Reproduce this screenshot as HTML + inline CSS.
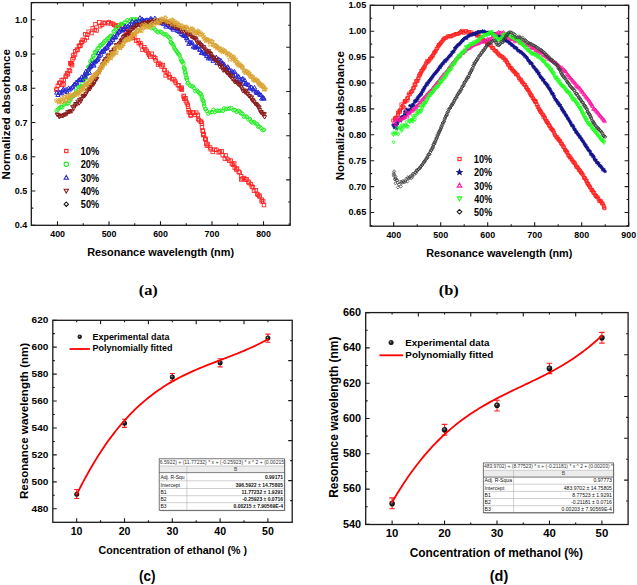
<!DOCTYPE html><html><head><meta charset="utf-8"><style>html,body{margin:0;padding:0;background:#fff;width:637px;height:585px;overflow:hidden}svg{display:block}</style></head><body><svg width="637" height="585" viewBox="0 0 637 585"><rect width="637" height="585" fill="#fff"/><defs><radialGradient id="ball" cx="0.42" cy="0.38" r="0.6"><stop offset="0" stop-color="#bbb"/><stop offset="0.3" stop-color="#333"/><stop offset="1" stop-color="#000"/></radialGradient></defs><path d="M57.5 225.3L57.5 221.3M109 225.3L109 221.3M160.5 225.3L160.5 221.3M212 225.3L212 221.3M263.5 225.3L263.5 221.3M83.25 225.3L83.25 223.3M134.75 225.3L134.75 223.3M186.25 225.3L186.25 223.3M237.75 225.3L237.75 223.3M289.25 225.3L289.25 223.3M83.25 2.6L83.25 6.6M134.75 2.6L134.75 6.6M186.25 2.6L186.25 6.6M237.75 2.6L237.75 6.6M57.5 2.6L57.5 4.6M109 2.6L109 4.6M160.5 2.6L160.5 4.6M212 2.6L212 4.6M263.5 2.6L263.5 4.6M31.3 225.3L35.3 225.3M31.3 191.04L35.3 191.04M31.3 156.78L35.3 156.78M31.3 122.52L35.3 122.52M31.3 88.26L35.3 88.26M31.3 54L35.3 54M31.3 19.74L35.3 19.74M31.3 208.17L33.3 208.17M31.3 173.91L33.3 173.91M31.3 139.65L33.3 139.65M31.3 105.39L33.3 105.39M31.3 71.13L33.3 71.13M31.3 36.87L33.3 36.87M31.3 2.61L33.3 2.61M290.2 25.2L288.2 25.2M290.2 47.3L286.2 47.3M290.2 69.4L288.2 69.4M290.2 91.5L286.2 91.5M290.2 113.6L288.2 113.6M290.2 135.7L286.2 135.7M290.2 157.8L288.2 157.8M290.2 179.9L286.2 179.9M290.2 202L288.2 202" stroke="#1a1a1a" stroke-width="1.1" fill="none"/><rect x="31.3" y="2.6" width="258.9" height="222.7" fill="none" stroke="#1a1a1a" stroke-width="1.3"/><text x="50.22" y="237.1" font-family="Liberation Sans, sans-serif" font-weight="bold" font-size="9.7" fill="#000" textLength="14.82" lengthAdjust="spacingAndGlyphs">400</text><text x="101.65" y="237.1" font-family="Liberation Sans, sans-serif" font-weight="bold" font-size="9.7" fill="#000" textLength="14.82" lengthAdjust="spacingAndGlyphs">500</text><text x="153.13" y="237.1" font-family="Liberation Sans, sans-serif" font-weight="bold" font-size="9.7" fill="#000" textLength="14.82" lengthAdjust="spacingAndGlyphs">600</text><text x="204.61" y="237.1" font-family="Liberation Sans, sans-serif" font-weight="bold" font-size="9.7" fill="#000" textLength="14.82" lengthAdjust="spacingAndGlyphs">700</text><text x="256.15" y="237.1" font-family="Liberation Sans, sans-serif" font-weight="bold" font-size="9.7" fill="#000" textLength="14.82" lengthAdjust="spacingAndGlyphs">800</text><text x="14.66" y="228.4" font-family="Liberation Sans, sans-serif" font-weight="bold" font-size="9.3" fill="#000" textLength="12.49" lengthAdjust="spacingAndGlyphs">0.4</text><text x="14.84" y="194.14" font-family="Liberation Sans, sans-serif" font-weight="bold" font-size="9.3" fill="#000" textLength="12.49" lengthAdjust="spacingAndGlyphs">0.5</text><text x="14.93" y="159.88" font-family="Liberation Sans, sans-serif" font-weight="bold" font-size="9.3" fill="#000" textLength="12.49" lengthAdjust="spacingAndGlyphs">0.6</text><text x="14.98" y="125.62" font-family="Liberation Sans, sans-serif" font-weight="bold" font-size="9.3" fill="#000" textLength="12.49" lengthAdjust="spacingAndGlyphs">0.7</text><text x="14.89" y="91.36" font-family="Liberation Sans, sans-serif" font-weight="bold" font-size="9.3" fill="#000" textLength="12.49" lengthAdjust="spacingAndGlyphs">0.8</text><text x="14.93" y="57.1" font-family="Liberation Sans, sans-serif" font-weight="bold" font-size="9.3" fill="#000" textLength="12.49" lengthAdjust="spacingAndGlyphs">0.9</text><text x="14.98" y="22.84" font-family="Liberation Sans, sans-serif" font-weight="bold" font-size="9.3" fill="#000" textLength="12.49" lengthAdjust="spacingAndGlyphs">1.0</text><text x="87.14" y="255.9" font-family="Liberation Sans, sans-serif" font-weight="bold" font-size="11.4" fill="#000" textLength="146.93" lengthAdjust="spacingAndGlyphs">Resonance wavelength (nm)</text><text transform="translate(10.3 179.4) rotate(-90)" x="0" y="0" font-family="Liberation Sans, sans-serif" font-weight="bold" font-size="11.5" fill="#000" textLength="130.37" lengthAdjust="spacingAndGlyphs">Normalized absorbance</text><text x="138.71" y="294.7" font-family="Liberation Serif, serif" font-weight="bold" font-size="15.2" fill="#000" textLength="19.11" lengthAdjust="spacingAndGlyphs">(a)</text><g><use href="#m0" x="56.4" y="89.8"/><use href="#m0" x="56.8" y="88.9"/><use href="#m0" x="57.8" y="85.8"/><use href="#m0" x="59.3" y="82.9"/><use href="#m0" x="60.2" y="82.8"/><use href="#m0" x="62.2" y="84.9"/><use href="#m0" x="61.7" y="80.0"/><use href="#m0" x="63.6" y="84.3"/><use href="#m0" x="63.7" y="79.9"/><use href="#m0" x="66.0" y="75.6"/><use href="#m0" x="65.7" y="76.8"/><use href="#m0" x="67.7" y="74.4"/><use href="#m0" x="67.3" y="73.1"/><use href="#m0" x="69.0" y="70.1"/><use href="#m0" x="70.0" y="71.1"/><use href="#m0" x="71.0" y="64.2"/><use href="#m0" x="70.2" y="63.1"/><use href="#m0" x="72.1" y="65.3"/><use href="#m0" x="71.5" y="63.3"/><use href="#m0" x="72.5" y="59.3"/><use href="#m0" x="73.1" y="55.4"/><use href="#m0" x="73.8" y="57.5"/><use href="#m0" x="75.0" y="54.5"/><use href="#m0" x="75.3" y="51.2"/><use href="#m0" x="77.0" y="49.6"/><use href="#m0" x="77.5" y="50.0"/><use href="#m0" x="78.9" y="46.3"/><use href="#m0" x="79.5" y="45.6"/><use href="#m0" x="80.5" y="45.7"/><use href="#m0" x="81.2" y="42.5"/><use href="#m0" x="82.7" y="39.8"/><use href="#m0" x="82.2" y="41.9"/><use href="#m0" x="84.6" y="40.3"/><use href="#m0" x="85.3" y="34.2"/><use href="#m0" x="86.9" y="37.6"/><use href="#m0" x="87.3" y="34.7"/><use href="#m0" x="88.7" y="31.7"/><use href="#m0" x="91.5" y="33.1"/><use href="#m0" x="92.7" y="28.2"/><use href="#m0" x="94.8" y="29.8"/><use href="#m0" x="95.5" y="24.1"/><use href="#m0" x="96.6" y="30.5"/><use href="#m0" x="99.3" y="22.3"/><use href="#m0" x="100.1" y="26.2"/><use href="#m0" x="102.1" y="24.7"/><use href="#m0" x="103.6" y="22.7"/><use href="#m0" x="104.8" y="23.1"/><use href="#m0" x="107.8" y="23.3"/><use href="#m0" x="108.7" y="22.1"/><use href="#m0" x="111.3" y="23.4"/><use href="#m0" x="113.1" y="23.9"/><use href="#m0" x="114.2" y="24.9"/><use href="#m0" x="115.7" y="26.0"/><use href="#m0" x="118.0" y="25.5"/><use href="#m0" x="119.6" y="28.0"/><use href="#m0" x="121.8" y="25.6"/><use href="#m0" x="122.9" y="30.0"/><use href="#m0" x="124.4" y="29.0"/><use href="#m0" x="126.6" y="31.4"/><use href="#m0" x="127.2" y="34.4"/><use href="#m0" x="128.6" y="32.9"/><use href="#m0" x="130.7" y="34.1"/><use href="#m0" x="131.9" y="36.0"/><use href="#m0" x="132.9" y="37.9"/><use href="#m0" x="134.3" y="37.3"/><use href="#m0" x="136.1" y="40.7"/><use href="#m0" x="138.0" y="40.4"/><use href="#m0" x="138.8" y="43.2"/><use href="#m0" x="140.4" y="43.1"/><use href="#m0" x="141.1" y="45.3"/><use href="#m0" x="142.5" y="49.9"/><use href="#m0" x="144.3" y="47.2"/><use href="#m0" x="145.3" y="49.1"/><use href="#m0" x="146.6" y="50.8"/><use href="#m0" x="148.1" y="53.1"/><use href="#m0" x="149.1" y="55.0"/><use href="#m0" x="150.3" y="56.6"/><use href="#m0" x="151.9" y="53.7"/><use href="#m0" x="153.9" y="57.0"/><use href="#m0" x="155.2" y="58.2"/><use href="#m0" x="155.8" y="60.5"/><use href="#m0" x="158.0" y="64.6"/><use href="#m0" x="158.4" y="62.9"/><use href="#m0" x="160.2" y="63.9"/><use href="#m0" x="161.6" y="66.5"/><use href="#m0" x="162.9" y="65.1"/><use href="#m0" x="164.1" y="69.8"/><use href="#m0" x="164.8" y="70.3"/><use href="#m0" x="165.7" y="75.4"/><use href="#m0" x="166.9" y="72.7"/><use href="#m0" x="168.5" y="74.5"/><use href="#m0" x="169.6" y="77.4"/><use href="#m0" x="169.9" y="77.1"/><use href="#m0" x="172.1" y="79.1"/><use href="#m0" x="173.5" y="79.1"/><use href="#m0" x="174.9" y="81.0"/><use href="#m0" x="175.8" y="82.9"/><use href="#m0" x="177.8" y="85.1"/><use href="#m0" x="178.9" y="85.4"/><use href="#m0" x="179.7" y="88.5"/><use href="#m0" x="181.0" y="88.6"/><use href="#m0" x="181.8" y="87.6"/><use href="#m0" x="181.9" y="89.9"/><use href="#m0" x="183.7" y="96.7"/><use href="#m0" x="183.8" y="95.8"/><use href="#m0" x="184.3" y="98.7"/><use href="#m0" x="185.6" y="98.3"/><use href="#m0" x="185.8" y="101.1"/><use href="#m0" x="186.8" y="102.6"/><use href="#m0" x="187.8" y="104.8"/><use href="#m0" x="188.0" y="106.7"/><use href="#m0" x="188.7" y="109.9"/><use href="#m0" x="188.8" y="112.1"/><use href="#m0" x="190.0" y="112.5"/><use href="#m0" x="190.5" y="114.6"/><use href="#m0" x="190.8" y="115.8"/><use href="#m0" x="192.7" y="112.5"/><use href="#m0" x="193.4" y="112.8"/><use href="#m0" x="195.0" y="114.9"/><use href="#m0" x="196.3" y="112.6"/><use href="#m0" x="197.9" y="114.9"/><use href="#m0" x="198.1" y="119.0"/><use href="#m0" x="199.1" y="120.2"/><use href="#m0" x="200.8" y="121.7"/><use href="#m0" x="201.2" y="121.7"/><use href="#m0" x="201.9" y="123.6"/><use href="#m0" x="202.0" y="127.2"/><use href="#m0" x="202.7" y="130.6"/><use href="#m0" x="202.9" y="131.0"/><use href="#m0" x="203.2" y="134.5"/><use href="#m0" x="203.5" y="133.9"/><use href="#m0" x="203.5" y="135.1"/><use href="#m0" x="205.1" y="138.6"/><use href="#m0" x="205.5" y="139.0"/><use href="#m0" x="205.8" y="139.7"/><use href="#m0" x="206.3" y="143.6"/><use href="#m0" x="206.9" y="145.7"/><use href="#m0" x="207.9" y="144.5"/><use href="#m0" x="210.1" y="147.5"/><use href="#m0" x="210.8" y="149.3"/><use href="#m0" x="212.7" y="151.9"/><use href="#m0" x="214.5" y="149.7"/><use href="#m0" x="216.4" y="149.8"/><use href="#m0" x="218.7" y="152.4"/><use href="#m0" x="219.9" y="151.6"/><use href="#m0" x="221.7" y="151.3"/><use href="#m0" x="222.7" y="155.2"/><use href="#m0" x="224.8" y="158.6"/><use href="#m0" x="225.6" y="155.4"/><use href="#m0" x="227.4" y="158.9"/><use href="#m0" x="229.1" y="160.8"/><use href="#m0" x="230.8" y="160.6"/><use href="#m0" x="231.9" y="163.7"/><use href="#m0" x="232.9" y="164.7"/><use href="#m0" x="234.2" y="163.4"/><use href="#m0" x="234.7" y="167.6"/><use href="#m0" x="236.3" y="169.5"/><use href="#m0" x="237.1" y="168.5"/><use href="#m0" x="238.6" y="171.6"/><use href="#m0" x="239.6" y="172.5"/><use href="#m0" x="241.1" y="176.2"/><use href="#m0" x="241.2" y="179.5"/><use href="#m0" x="242.6" y="178.5"/><use href="#m0" x="244.1" y="178.0"/><use href="#m0" x="245.4" y="179.6"/><use href="#m0" x="246.6" y="179.3"/><use href="#m0" x="248.5" y="181.7"/><use href="#m0" x="248.9" y="182.9"/><use href="#m0" x="250.9" y="184.3"/><use href="#m0" x="251.9" y="186.6"/><use href="#m0" x="252.9" y="187.1"/><use href="#m0" x="254.0" y="190.8"/><use href="#m0" x="255.9" y="190.3"/><use href="#m0" x="257.2" y="194.0"/><use href="#m0" x="258.0" y="194.8"/><use href="#m0" x="259.4" y="195.6"/><use href="#m0" x="259.6" y="196.6"/><use href="#m0" x="261.7" y="201.4"/><use href="#m0" x="261.9" y="199.7"/><use href="#m0" x="263.2" y="201.5"/><use href="#m0" x="264.0" y="205.1"/></g><g><use href="#m1" x="56.5" y="110.7"/><use href="#m1" x="58.0" y="109.4"/><use href="#m1" x="59.4" y="107.8"/><use href="#m1" x="61.0" y="107.1"/><use href="#m1" x="62.3" y="107.2"/><use href="#m1" x="63.9" y="104.4"/><use href="#m1" x="65.2" y="103.5"/><use href="#m1" x="67.1" y="103.6"/><use href="#m1" x="68.5" y="103.3"/><use href="#m1" x="69.2" y="101.0"/><use href="#m1" x="70.6" y="99.6"/><use href="#m1" x="71.5" y="97.7"/><use href="#m1" x="72.7" y="95.8"/><use href="#m1" x="73.8" y="95.9"/><use href="#m1" x="74.9" y="93.7"/><use href="#m1" x="76.0" y="90.9"/><use href="#m1" x="77.3" y="91.9"/><use href="#m1" x="78.1" y="86.8"/><use href="#m1" x="79.4" y="87.2"/><use href="#m1" x="80.4" y="86.9"/><use href="#m1" x="81.6" y="86.0"/><use href="#m1" x="82.3" y="83.7"/><use href="#m1" x="83.3" y="80.8"/><use href="#m1" x="84.3" y="79.0"/><use href="#m1" x="84.8" y="79.0"/><use href="#m1" x="85.2" y="77.7"/><use href="#m1" x="86.0" y="75.3"/><use href="#m1" x="86.4" y="74.7"/><use href="#m1" x="87.1" y="73.3"/><use href="#m1" x="87.7" y="70.9"/><use href="#m1" x="88.4" y="67.0"/><use href="#m1" x="88.8" y="67.4"/><use href="#m1" x="90.1" y="65.6"/><use href="#m1" x="90.3" y="61.4"/><use href="#m1" x="91.0" y="63.0"/><use href="#m1" x="92.0" y="60.1"/><use href="#m1" x="92.5" y="59.2"/><use href="#m1" x="93.1" y="55.9"/><use href="#m1" x="94.3" y="55.5"/><use href="#m1" x="95.0" y="52.0"/><use href="#m1" x="95.9" y="52.8"/><use href="#m1" x="96.6" y="50.9"/><use href="#m1" x="97.7" y="48.4"/><use href="#m1" x="98.7" y="48.3"/><use href="#m1" x="99.9" y="45.5"/><use href="#m1" x="101.2" y="45.3"/><use href="#m1" x="102.3" y="44.2"/><use href="#m1" x="103.5" y="42.9"/><use href="#m1" x="104.6" y="41.2"/><use href="#m1" x="106.0" y="40.5"/><use href="#m1" x="107.3" y="38.6"/><use href="#m1" x="108.7" y="38.1"/><use href="#m1" x="110.0" y="36.5"/><use href="#m1" x="111.0" y="35.7"/><use href="#m1" x="112.4" y="35.9"/><use href="#m1" x="113.7" y="31.6"/><use href="#m1" x="114.6" y="30.8"/><use href="#m1" x="115.9" y="29.5"/><use href="#m1" x="117.0" y="27.1"/><use href="#m1" x="118.4" y="27.7"/><use href="#m1" x="119.6" y="24.9"/><use href="#m1" x="121.0" y="23.9"/><use href="#m1" x="122.5" y="24.3"/><use href="#m1" x="124.4" y="22.6"/><use href="#m1" x="125.5" y="22.4"/><use href="#m1" x="127.3" y="20.2"/><use href="#m1" x="129.4" y="21.1"/><use href="#m1" x="131.0" y="19.4"/><use href="#m1" x="132.9" y="19.3"/><use href="#m1" x="134.1" y="19.6"/><use href="#m1" x="136.1" y="19.1"/><use href="#m1" x="137.6" y="20.2"/><use href="#m1" x="139.3" y="22.0"/><use href="#m1" x="141.1" y="20.5"/><use href="#m1" x="143.2" y="23.6"/><use href="#m1" x="144.4" y="22.0"/><use href="#m1" x="146.0" y="24.0"/><use href="#m1" x="147.2" y="25.6"/><use href="#m1" x="148.7" y="26.6"/><use href="#m1" x="150.2" y="25.0"/><use href="#m1" x="151.5" y="28.1"/><use href="#m1" x="153.6" y="27.9"/><use href="#m1" x="155.3" y="29.6"/><use href="#m1" x="157.0" y="31.5"/><use href="#m1" x="158.3" y="32.3"/><use href="#m1" x="160.3" y="31.6"/><use href="#m1" x="161.6" y="32.3"/><use href="#m1" x="163.5" y="34.2"/><use href="#m1" x="164.6" y="34.3"/><use href="#m1" x="166.3" y="34.5"/><use href="#m1" x="167.7" y="36.7"/><use href="#m1" x="169.1" y="37.3"/><use href="#m1" x="170.3" y="39.0"/><use href="#m1" x="170.8" y="42.1"/><use href="#m1" x="171.4" y="43.1"/><use href="#m1" x="172.5" y="44.0"/><use href="#m1" x="173.4" y="45.2"/><use href="#m1" x="174.0" y="47.2"/><use href="#m1" x="174.8" y="48.8"/><use href="#m1" x="175.9" y="50.4"/><use href="#m1" x="177.1" y="51.9"/><use href="#m1" x="177.9" y="53.4"/><use href="#m1" x="179.1" y="54.5"/><use href="#m1" x="179.6" y="55.5"/><use href="#m1" x="180.7" y="58.6"/><use href="#m1" x="181.4" y="60.3"/><use href="#m1" x="181.8" y="61.7"/><use href="#m1" x="182.5" y="61.8"/><use href="#m1" x="183.4" y="63.5"/><use href="#m1" x="184.0" y="67.5"/><use href="#m1" x="184.2" y="68.4"/><use href="#m1" x="184.7" y="69.2"/><use href="#m1" x="185.0" y="72.1"/><use href="#m1" x="185.7" y="72.7"/><use href="#m1" x="185.7" y="74.8"/><use href="#m1" x="186.2" y="77.7"/><use href="#m1" x="186.9" y="77.7"/><use href="#m1" x="187.0" y="79.7"/><use href="#m1" x="187.6" y="83.4"/><use href="#m1" x="188.4" y="82.7"/><use href="#m1" x="189.9" y="85.4"/><use href="#m1" x="191.5" y="86.3"/><use href="#m1" x="192.8" y="86.4"/><use href="#m1" x="194.1" y="88.1"/><use href="#m1" x="195.3" y="91.2"/><use href="#m1" x="197.2" y="90.6"/><use href="#m1" x="198.2" y="91.9"/><use href="#m1" x="199.7" y="93.5"/><use href="#m1" x="200.9" y="93.8"/><use href="#m1" x="201.6" y="96.0"/><use href="#m1" x="202.0" y="97.6"/><use href="#m1" x="202.6" y="100.3"/><use href="#m1" x="203.1" y="100.5"/><use href="#m1" x="203.6" y="101.5"/><use href="#m1" x="203.8" y="103.8"/><use href="#m1" x="204.3" y="106.0"/><use href="#m1" x="205.3" y="109.0"/><use href="#m1" x="205.5" y="108.9"/><use href="#m1" x="206.7" y="111.0"/><use href="#m1" x="208.3" y="113.6"/><use href="#m1" x="210.1" y="112.3"/><use href="#m1" x="212.0" y="112.1"/><use href="#m1" x="213.4" y="109.8"/><use href="#m1" x="215.1" y="111.8"/><use href="#m1" x="217.1" y="110.7"/><use href="#m1" x="218.9" y="110.9"/><use href="#m1" x="220.6" y="110.6"/><use href="#m1" x="222.8" y="110.8"/><use href="#m1" x="224.1" y="108.4"/><use href="#m1" x="225.9" y="109.1"/><use href="#m1" x="227.7" y="108.8"/><use href="#m1" x="229.3" y="108.4"/><use href="#m1" x="231.5" y="108.0"/><use href="#m1" x="233.4" y="110.2"/><use href="#m1" x="234.8" y="110.0"/><use href="#m1" x="236.6" y="111.8"/><use href="#m1" x="238.6" y="110.8"/><use href="#m1" x="240.1" y="111.8"/><use href="#m1" x="240.9" y="113.3"/><use href="#m1" x="242.4" y="113.8"/><use href="#m1" x="243.9" y="116.6"/><use href="#m1" x="245.4" y="116.1"/><use href="#m1" x="246.8" y="116.9"/><use href="#m1" x="248.4" y="119.4"/><use href="#m1" x="249.9" y="119.0"/><use href="#m1" x="251.0" y="121.4"/><use href="#m1" x="252.3" y="122.5"/><use href="#m1" x="254.2" y="122.0"/><use href="#m1" x="255.3" y="123.3"/><use href="#m1" x="257.1" y="124.1"/><use href="#m1" x="258.0" y="126.5"/><use href="#m1" x="259.4" y="126.5"/><use href="#m1" x="260.9" y="127.9"/><use href="#m1" x="262.5" y="130.2"/><use href="#m1" x="263.9" y="129.8"/></g><g><use href="#m2" x="56.7" y="92.6"/><use href="#m2" x="57.9" y="94.9"/><use href="#m2" x="59.5" y="92.5"/><use href="#m2" x="60.2" y="92.5"/><use href="#m2" x="61.6" y="93.3"/><use href="#m2" x="62.8" y="90.1"/><use href="#m2" x="63.4" y="89.0"/><use href="#m2" x="65.0" y="91.2"/><use href="#m2" x="66.1" y="89.4"/><use href="#m2" x="67.1" y="92.0"/><use href="#m2" x="68.6" y="88.0"/><use href="#m2" x="69.4" y="89.6"/><use href="#m2" x="70.7" y="88.4"/><use href="#m2" x="72.2" y="87.3"/><use href="#m2" x="72.8" y="86.5"/><use href="#m2" x="74.1" y="84.5"/><use href="#m2" x="75.0" y="84.1"/><use href="#m2" x="76.1" y="82.1"/><use href="#m2" x="77.0" y="82.7"/><use href="#m2" x="78.6" y="80.0"/><use href="#m2" x="79.2" y="80.2"/><use href="#m2" x="80.1" y="79.3"/><use href="#m2" x="80.8" y="79.8"/><use href="#m2" x="81.6" y="76.9"/><use href="#m2" x="82.8" y="79.6"/><use href="#m2" x="83.9" y="75.6"/><use href="#m2" x="84.6" y="74.5"/><use href="#m2" x="85.4" y="76.6"/><use href="#m2" x="85.8" y="71.3"/><use href="#m2" x="86.7" y="73.6"/><use href="#m2" x="87.1" y="72.6"/><use href="#m2" x="88.5" y="69.2"/><use href="#m2" x="89.4" y="72.7"/><use href="#m2" x="89.5" y="67.7"/><use href="#m2" x="90.3" y="66.9"/><use href="#m2" x="91.1" y="65.9"/><use href="#m2" x="91.8" y="63.6"/><use href="#m2" x="93.4" y="64.5"/><use href="#m2" x="93.9" y="65.5"/><use href="#m2" x="94.1" y="62.5"/><use href="#m2" x="95.5" y="61.6"/><use href="#m2" x="95.8" y="60.9"/><use href="#m2" x="96.9" y="59.9"/><use href="#m2" x="97.7" y="59.4"/><use href="#m2" x="98.2" y="57.8"/><use href="#m2" x="98.5" y="53.0"/><use href="#m2" x="99.3" y="55.8"/><use href="#m2" x="100.9" y="54.5"/><use href="#m2" x="101.6" y="51.5"/><use href="#m2" x="102.0" y="51.7"/><use href="#m2" x="103.3" y="50.5"/><use href="#m2" x="103.7" y="51.5"/><use href="#m2" x="104.3" y="49.0"/><use href="#m2" x="105.1" y="48.7"/><use href="#m2" x="106.3" y="47.8"/><use href="#m2" x="107.2" y="47.4"/><use href="#m2" x="107.8" y="45.2"/><use href="#m2" x="108.8" y="43.9"/><use href="#m2" x="109.2" y="42.8"/><use href="#m2" x="110.8" y="42.4"/><use href="#m2" x="110.9" y="41.8"/><use href="#m2" x="112.5" y="38.3"/><use href="#m2" x="112.8" y="40.0"/><use href="#m2" x="113.6" y="36.7"/><use href="#m2" x="115.0" y="37.5"/><use href="#m2" x="115.6" y="36.9"/><use href="#m2" x="116.9" y="34.5"/><use href="#m2" x="117.5" y="33.1"/><use href="#m2" x="118.9" y="31.6"/><use href="#m2" x="119.2" y="31.6"/><use href="#m2" x="120.8" y="29.1"/><use href="#m2" x="121.9" y="30.5"/><use href="#m2" x="122.9" y="29.8"/><use href="#m2" x="123.9" y="28.9"/><use href="#m2" x="124.9" y="26.8"/><use href="#m2" x="125.5" y="26.3"/><use href="#m2" x="126.8" y="28.8"/><use href="#m2" x="127.6" y="26.5"/><use href="#m2" x="129.5" y="24.6"/><use href="#m2" x="130.6" y="26.6"/><use href="#m2" x="131.5" y="24.6"/><use href="#m2" x="132.1" y="21.3"/><use href="#m2" x="134.1" y="24.9"/><use href="#m2" x="134.4" y="22.7"/><use href="#m2" x="136.0" y="21.3"/><use href="#m2" x="136.9" y="21.9"/><use href="#m2" x="138.6" y="21.6"/><use href="#m2" x="139.9" y="17.7"/><use href="#m2" x="141.3" y="23.0"/><use href="#m2" x="142.0" y="19.0"/><use href="#m2" x="143.4" y="20.1"/><use href="#m2" x="144.7" y="20.9"/><use href="#m2" x="146.0" y="20.1"/><use href="#m2" x="147.0" y="19.9"/><use href="#m2" x="148.7" y="20.3"/><use href="#m2" x="150.4" y="18.6"/><use href="#m2" x="151.5" y="18.8"/><use href="#m2" x="152.2" y="22.1"/><use href="#m2" x="153.9" y="21.9"/><use href="#m2" x="154.9" y="18.2"/><use href="#m2" x="156.2" y="19.8"/><use href="#m2" x="157.7" y="21.8"/><use href="#m2" x="159.6" y="20.0"/><use href="#m2" x="160.6" y="20.7"/><use href="#m2" x="161.6" y="21.2"/><use href="#m2" x="162.6" y="22.6"/><use href="#m2" x="163.3" y="24.1"/><use href="#m2" x="164.5" y="22.3"/><use href="#m2" x="165.9" y="26.5"/><use href="#m2" x="167.4" y="24.7"/><use href="#m2" x="168.4" y="25.1"/><use href="#m2" x="170.0" y="26.3"/><use href="#m2" x="170.3" y="27.0"/><use href="#m2" x="171.9" y="28.1"/><use href="#m2" x="173.3" y="29.6"/><use href="#m2" x="173.9" y="27.9"/><use href="#m2" x="175.4" y="27.9"/><use href="#m2" x="176.9" y="28.6"/><use href="#m2" x="177.4" y="30.6"/><use href="#m2" x="178.5" y="30.9"/><use href="#m2" x="179.8" y="32.1"/><use href="#m2" x="180.5" y="28.2"/><use href="#m2" x="181.4" y="33.9"/><use href="#m2" x="183.0" y="35.2"/><use href="#m2" x="184.1" y="35.5"/><use href="#m2" x="185.1" y="35.8"/><use href="#m2" x="185.6" y="35.7"/><use href="#m2" x="186.6" y="38.2"/><use href="#m2" x="186.8" y="37.7"/><use href="#m2" x="187.4" y="40.2"/><use href="#m2" x="188.8" y="43.8"/><use href="#m2" x="189.9" y="41.9"/><use href="#m2" x="191.2" y="43.0"/><use href="#m2" x="192.0" y="42.3"/><use href="#m2" x="193.3" y="46.6"/><use href="#m2" x="194.6" y="46.6"/><use href="#m2" x="195.2" y="47.7"/><use href="#m2" x="195.9" y="46.5"/><use href="#m2" x="197.2" y="46.9"/><use href="#m2" x="198.4" y="45.7"/><use href="#m2" x="199.6" y="49.8"/><use href="#m2" x="200.1" y="49.3"/><use href="#m2" x="201.5" y="53.0"/><use href="#m2" x="201.9" y="52.3"/><use href="#m2" x="203.6" y="51.3"/><use href="#m2" x="204.1" y="53.4"/><use href="#m2" x="205.6" y="53.6"/><use href="#m2" x="206.3" y="54.3"/><use href="#m2" x="206.6" y="56.0"/><use href="#m2" x="208.3" y="58.3"/><use href="#m2" x="209.1" y="56.8"/><use href="#m2" x="210.2" y="58.5"/><use href="#m2" x="210.8" y="55.7"/><use href="#m2" x="213.0" y="60.7"/><use href="#m2" x="214.2" y="59.0"/><use href="#m2" x="215.2" y="59.3"/><use href="#m2" x="216.3" y="57.2"/><use href="#m2" x="216.9" y="63.1"/><use href="#m2" x="218.6" y="59.0"/><use href="#m2" x="220.3" y="61.7"/><use href="#m2" x="220.9" y="60.4"/><use href="#m2" x="221.9" y="63.4"/><use href="#m2" x="222.9" y="63.2"/><use href="#m2" x="224.2" y="64.3"/><use href="#m2" x="224.7" y="67.4"/><use href="#m2" x="226.2" y="68.0"/><use href="#m2" x="226.7" y="68.3"/><use href="#m2" x="227.8" y="66.8"/><use href="#m2" x="228.5" y="68.3"/><use href="#m2" x="229.7" y="70.4"/><use href="#m2" x="231.3" y="72.7"/><use href="#m2" x="231.7" y="70.7"/><use href="#m2" x="233.2" y="72.0"/><use href="#m2" x="233.3" y="75.4"/><use href="#m2" x="234.5" y="71.6"/><use href="#m2" x="235.7" y="74.7"/><use href="#m2" x="236.3" y="80.0"/><use href="#m2" x="237.7" y="75.7"/><use href="#m2" x="238.8" y="76.8"/><use href="#m2" x="239.4" y="80.4"/><use href="#m2" x="240.8" y="81.0"/><use href="#m2" x="241.9" y="79.1"/><use href="#m2" x="242.8" y="78.5"/><use href="#m2" x="243.5" y="82.4"/><use href="#m2" x="244.6" y="79.9"/><use href="#m2" x="245.4" y="83.9"/><use href="#m2" x="246.0" y="83.2"/><use href="#m2" x="247.6" y="84.5"/><use href="#m2" x="248.9" y="84.8"/><use href="#m2" x="249.5" y="88.3"/><use href="#m2" x="250.0" y="88.2"/><use href="#m2" x="251.6" y="87.1"/><use href="#m2" x="252.9" y="88.9"/><use href="#m2" x="253.7" y="90.3"/><use href="#m2" x="254.5" y="87.5"/><use href="#m2" x="256.1" y="91.7"/><use href="#m2" x="256.7" y="92.9"/><use href="#m2" x="258.1" y="92.1"/><use href="#m2" x="259.0" y="93.5"/><use href="#m2" x="260.0" y="94.8"/><use href="#m2" x="261.1" y="94.9"/><use href="#m2" x="261.6" y="98.5"/><use href="#m2" x="262.9" y="97.5"/><use href="#m2" x="263.5" y="97.8"/><use href="#m2" x="264.0" y="98.6"/></g><g><use href="#m3" x="57.1" y="114.6"/><use href="#m3" x="58.2" y="114.9"/><use href="#m3" x="59.3" y="117.0"/><use href="#m3" x="60.2" y="116.1"/><use href="#m3" x="62.0" y="116.0"/><use href="#m3" x="63.3" y="115.7"/><use href="#m3" x="64.1" y="115.0"/><use href="#m3" x="65.1" y="114.6"/><use href="#m3" x="66.7" y="114.2"/><use href="#m3" x="67.7" y="112.2"/><use href="#m3" x="68.8" y="112.0"/><use href="#m3" x="69.5" y="111.6"/><use href="#m3" x="70.5" y="111.3"/><use href="#m3" x="71.8" y="111.3"/><use href="#m3" x="72.6" y="106.9"/><use href="#m3" x="73.8" y="108.4"/><use href="#m3" x="74.9" y="105.6"/><use href="#m3" x="75.7" y="104.0"/><use href="#m3" x="76.8" y="104.4"/><use href="#m3" x="77.8" y="101.6"/><use href="#m3" x="79.0" y="103.3"/><use href="#m3" x="79.5" y="99.9"/><use href="#m3" x="80.8" y="101.3"/><use href="#m3" x="81.6" y="98.9"/><use href="#m3" x="82.8" y="96.5"/><use href="#m3" x="83.4" y="96.0"/><use href="#m3" x="84.4" y="96.0"/><use href="#m3" x="84.7" y="95.6"/><use href="#m3" x="85.9" y="94.2"/><use href="#m3" x="86.9" y="91.5"/><use href="#m3" x="87.5" y="90.6"/><use href="#m3" x="88.3" y="90.2"/><use href="#m3" x="88.8" y="87.5"/><use href="#m3" x="90.1" y="89.0"/><use href="#m3" x="90.5" y="87.0"/><use href="#m3" x="91.6" y="85.0"/><use href="#m3" x="92.5" y="84.4"/><use href="#m3" x="93.5" y="84.5"/><use href="#m3" x="94.2" y="82.4"/><use href="#m3" x="94.7" y="81.6"/><use href="#m3" x="95.5" y="79.5"/><use href="#m3" x="96.0" y="79.4"/><use href="#m3" x="96.9" y="78.8"/><use href="#m3" x="97.4" y="74.8"/><use href="#m3" x="97.9" y="73.4"/><use href="#m3" x="98.9" y="72.0"/><use href="#m3" x="99.6" y="71.6"/><use href="#m3" x="99.9" y="71.2"/><use href="#m3" x="100.4" y="69.3"/><use href="#m3" x="100.5" y="69.3"/><use href="#m3" x="101.5" y="67.4"/><use href="#m3" x="102.2" y="65.4"/><use href="#m3" x="102.6" y="64.5"/><use href="#m3" x="103.5" y="64.0"/><use href="#m3" x="104.2" y="61.7"/><use href="#m3" x="104.9" y="61.0"/><use href="#m3" x="105.6" y="59.2"/><use href="#m3" x="106.2" y="60.4"/><use href="#m3" x="107.6" y="57.8"/><use href="#m3" x="108.0" y="55.8"/><use href="#m3" x="109.0" y="54.9"/><use href="#m3" x="110.3" y="55.5"/><use href="#m3" x="111.1" y="52.2"/><use href="#m3" x="111.8" y="52.5"/><use href="#m3" x="112.9" y="51.6"/><use href="#m3" x="113.9" y="49.6"/><use href="#m3" x="114.3" y="49.5"/><use href="#m3" x="115.6" y="48.5"/><use href="#m3" x="116.2" y="45.1"/><use href="#m3" x="117.5" y="45.1"/><use href="#m3" x="118.0" y="45.2"/><use href="#m3" x="119.3" y="43.5"/><use href="#m3" x="120.2" y="42.7"/><use href="#m3" x="121.0" y="40.7"/><use href="#m3" x="121.9" y="40.8"/><use href="#m3" x="122.3" y="39.5"/><use href="#m3" x="123.2" y="37.2"/><use href="#m3" x="124.2" y="36.5"/><use href="#m3" x="124.9" y="35.8"/><use href="#m3" x="126.2" y="35.0"/><use href="#m3" x="127.3" y="35.9"/><use href="#m3" x="128.0" y="32.1"/><use href="#m3" x="129.2" y="32.6"/><use href="#m3" x="129.8" y="31.5"/><use href="#m3" x="131.4" y="29.9"/><use href="#m3" x="132.5" y="28.4"/><use href="#m3" x="133.4" y="28.3"/><use href="#m3" x="134.4" y="27.5"/><use href="#m3" x="136.2" y="26.4"/><use href="#m3" x="137.0" y="25.3"/><use href="#m3" x="138.2" y="24.7"/><use href="#m3" x="139.8" y="25.3"/><use href="#m3" x="140.8" y="25.5"/><use href="#m3" x="142.1" y="24.3"/><use href="#m3" x="143.8" y="23.8"/><use href="#m3" x="144.9" y="22.6"/><use href="#m3" x="146.5" y="22.8"/><use href="#m3" x="147.7" y="23.2"/><use href="#m3" x="149.2" y="22.2"/><use href="#m3" x="150.4" y="22.6"/><use href="#m3" x="151.4" y="22.7"/><use href="#m3" x="153.1" y="21.3"/><use href="#m3" x="154.2" y="20.9"/><use href="#m3" x="155.5" y="20.7"/><use href="#m3" x="157.0" y="20.7"/><use href="#m3" x="158.8" y="21.1"/><use href="#m3" x="159.9" y="23.1"/><use href="#m3" x="161.1" y="22.3"/><use href="#m3" x="162.4" y="21.6"/><use href="#m3" x="164.4" y="21.3"/><use href="#m3" x="165.5" y="21.5"/><use href="#m3" x="166.6" y="22.6"/><use href="#m3" x="168.2" y="23.5"/><use href="#m3" x="169.5" y="23.6"/><use href="#m3" x="170.5" y="23.3"/><use href="#m3" x="171.5" y="24.9"/><use href="#m3" x="173.2" y="26.9"/><use href="#m3" x="174.1" y="26.3"/><use href="#m3" x="175.5" y="26.7"/><use href="#m3" x="176.7" y="28.0"/><use href="#m3" x="178.1" y="27.9"/><use href="#m3" x="179.3" y="28.0"/><use href="#m3" x="180.4" y="29.6"/><use href="#m3" x="181.5" y="31.5"/><use href="#m3" x="183.2" y="31.2"/><use href="#m3" x="184.4" y="29.0"/><use href="#m3" x="185.9" y="32.0"/><use href="#m3" x="187.0" y="33.2"/><use href="#m3" x="188.0" y="34.9"/><use href="#m3" x="189.0" y="33.8"/><use href="#m3" x="190.2" y="34.4"/><use href="#m3" x="191.2" y="36.5"/><use href="#m3" x="192.4" y="37.1"/><use href="#m3" x="193.4" y="37.8"/><use href="#m3" x="194.5" y="38.3"/><use href="#m3" x="195.6" y="38.5"/><use href="#m3" x="196.3" y="40.3"/><use href="#m3" x="197.3" y="42.8"/><use href="#m3" x="198.7" y="42.4"/><use href="#m3" x="199.6" y="43.8"/><use href="#m3" x="200.7" y="44.9"/><use href="#m3" x="201.3" y="45.6"/><use href="#m3" x="202.4" y="46.8"/><use href="#m3" x="203.8" y="47.1"/><use href="#m3" x="204.3" y="48.7"/><use href="#m3" x="205.7" y="50.3"/><use href="#m3" x="206.7" y="51.4"/><use href="#m3" x="207.2" y="52.2"/><use href="#m3" x="208.7" y="51.2"/><use href="#m3" x="209.5" y="53.1"/><use href="#m3" x="210.7" y="54.0"/><use href="#m3" x="211.2" y="55.6"/><use href="#m3" x="212.2" y="56.9"/><use href="#m3" x="213.3" y="57.8"/><use href="#m3" x="214.1" y="58.1"/><use href="#m3" x="214.9" y="60.2"/><use href="#m3" x="216.3" y="60.0"/><use href="#m3" x="216.8" y="59.9"/><use href="#m3" x="218.1" y="63.0"/><use href="#m3" x="218.7" y="63.9"/><use href="#m3" x="220.0" y="67.0"/><use href="#m3" x="221.3" y="65.6"/><use href="#m3" x="222.0" y="67.0"/><use href="#m3" x="223.2" y="70.4"/><use href="#m3" x="224.2" y="69.9"/><use href="#m3" x="225.0" y="69.1"/><use href="#m3" x="225.8" y="71.5"/><use href="#m3" x="226.8" y="72.8"/><use href="#m3" x="227.8" y="73.1"/><use href="#m3" x="228.8" y="74.5"/><use href="#m3" x="229.5" y="75.4"/><use href="#m3" x="230.4" y="76.4"/><use href="#m3" x="231.4" y="76.0"/><use href="#m3" x="232.2" y="79.0"/><use href="#m3" x="233.3" y="79.2"/><use href="#m3" x="234.5" y="81.9"/><use href="#m3" x="235.5" y="81.6"/><use href="#m3" x="236.6" y="82.2"/><use href="#m3" x="237.7" y="84.0"/><use href="#m3" x="238.5" y="84.7"/><use href="#m3" x="239.7" y="84.0"/><use href="#m3" x="240.0" y="85.1"/><use href="#m3" x="241.0" y="87.1"/><use href="#m3" x="242.0" y="88.6"/><use href="#m3" x="243.0" y="91.1"/><use href="#m3" x="244.4" y="90.4"/><use href="#m3" x="245.2" y="92.4"/><use href="#m3" x="245.8" y="91.4"/><use href="#m3" x="246.9" y="93.6"/><use href="#m3" x="247.9" y="93.7"/><use href="#m3" x="248.8" y="95.9"/><use href="#m3" x="249.7" y="96.1"/><use href="#m3" x="251.0" y="98.3"/><use href="#m3" x="251.7" y="97.4"/><use href="#m3" x="252.1" y="100.3"/><use href="#m3" x="252.9" y="100.3"/><use href="#m3" x="254.0" y="101.6"/><use href="#m3" x="255.1" y="103.7"/><use href="#m3" x="255.9" y="104.0"/><use href="#m3" x="256.6" y="104.9"/><use href="#m3" x="257.5" y="105.8"/><use href="#m3" x="258.2" y="107.3"/><use href="#m3" x="259.2" y="107.5"/><use href="#m3" x="259.7" y="110.0"/><use href="#m3" x="260.8" y="112.5"/><use href="#m3" x="261.2" y="112.0"/><use href="#m3" x="262.4" y="113.5"/><use href="#m3" x="263.0" y="114.6"/><use href="#m3" x="264.3" y="114.1"/><use href="#m3" x="264.6" y="117.1"/></g><g><use href="#m4" x="56.5" y="100.6"/><use href="#m4" x="58.3" y="101.2"/><use href="#m4" x="58.9" y="102.3"/><use href="#m4" x="60.1" y="101.0"/><use href="#m4" x="60.9" y="99.5"/><use href="#m4" x="61.8" y="102.0"/><use href="#m4" x="63.6" y="98.8"/><use href="#m4" x="64.1" y="97.1"/><use href="#m4" x="65.4" y="101.1"/><use href="#m4" x="66.0" y="100.1"/><use href="#m4" x="67.0" y="96.6"/><use href="#m4" x="67.8" y="95.7"/><use href="#m4" x="68.8" y="97.5"/><use href="#m4" x="70.5" y="94.9"/><use href="#m4" x="70.6" y="98.6"/><use href="#m4" x="72.6" y="95.5"/><use href="#m4" x="72.9" y="95.1"/><use href="#m4" x="74.5" y="94.6"/><use href="#m4" x="74.6" y="94.2"/><use href="#m4" x="76.0" y="93.2"/><use href="#m4" x="77.4" y="94.7"/><use href="#m4" x="78.0" y="92.6"/><use href="#m4" x="78.5" y="93.2"/><use href="#m4" x="80.0" y="91.8"/><use href="#m4" x="81.0" y="90.3"/><use href="#m4" x="81.3" y="89.0"/><use href="#m4" x="82.8" y="88.7"/><use href="#m4" x="83.3" y="87.2"/><use href="#m4" x="84.7" y="89.6"/><use href="#m4" x="85.0" y="85.3"/><use href="#m4" x="85.8" y="85.2"/><use href="#m4" x="86.2" y="84.9"/><use href="#m4" x="87.0" y="84.2"/><use href="#m4" x="87.1" y="84.0"/><use href="#m4" x="88.7" y="82.5"/><use href="#m4" x="89.3" y="80.5"/><use href="#m4" x="89.7" y="82.7"/><use href="#m4" x="89.9" y="79.8"/><use href="#m4" x="91.3" y="79.6"/><use href="#m4" x="92.2" y="78.4"/><use href="#m4" x="92.2" y="77.4"/><use href="#m4" x="93.6" y="75.1"/><use href="#m4" x="94.0" y="76.9"/><use href="#m4" x="95.3" y="75.0"/><use href="#m4" x="95.5" y="74.0"/><use href="#m4" x="95.9" y="74.5"/><use href="#m4" x="97.1" y="73.7"/><use href="#m4" x="98.3" y="72.3"/><use href="#m4" x="98.8" y="72.1"/><use href="#m4" x="99.4" y="71.5"/><use href="#m4" x="100.2" y="69.3"/><use href="#m4" x="100.2" y="68.9"/><use href="#m4" x="101.0" y="66.9"/><use href="#m4" x="102.3" y="65.2"/><use href="#m4" x="102.2" y="67.7"/><use href="#m4" x="103.1" y="64.8"/><use href="#m4" x="103.6" y="63.9"/><use href="#m4" x="105.0" y="63.2"/><use href="#m4" x="105.1" y="63.2"/><use href="#m4" x="106.4" y="61.0"/><use href="#m4" x="106.9" y="60.9"/><use href="#m4" x="107.2" y="60.6"/><use href="#m4" x="108.5" y="59.3"/><use href="#m4" x="108.8" y="57.1"/><use href="#m4" x="109.7" y="54.6"/><use href="#m4" x="110.7" y="57.5"/><use href="#m4" x="110.9" y="58.1"/><use href="#m4" x="111.7" y="53.4"/><use href="#m4" x="112.8" y="54.0"/><use href="#m4" x="112.8" y="55.1"/><use href="#m4" x="113.9" y="53.4"/><use href="#m4" x="115.0" y="52.5"/><use href="#m4" x="114.9" y="48.3"/><use href="#m4" x="115.7" y="47.6"/><use href="#m4" x="116.5" y="52.5"/><use href="#m4" x="117.2" y="46.3"/><use href="#m4" x="117.8" y="46.4"/><use href="#m4" x="118.7" y="46.0"/><use href="#m4" x="119.8" y="48.0"/><use href="#m4" x="120.5" y="47.7"/><use href="#m4" x="121.5" y="46.0"/><use href="#m4" x="122.2" y="45.9"/><use href="#m4" x="122.8" y="43.6"/><use href="#m4" x="123.6" y="44.0"/><use href="#m4" x="124.5" y="41.3"/><use href="#m4" x="125.1" y="40.2"/><use href="#m4" x="126.1" y="40.1"/><use href="#m4" x="127.2" y="39.3"/><use href="#m4" x="128.3" y="39.7"/><use href="#m4" x="128.7" y="39.9"/><use href="#m4" x="130.3" y="37.5"/><use href="#m4" x="130.9" y="39.1"/><use href="#m4" x="131.6" y="36.7"/><use href="#m4" x="132.9" y="34.0"/><use href="#m4" x="133.5" y="34.4"/><use href="#m4" x="134.5" y="33.7"/><use href="#m4" x="135.3" y="34.2"/><use href="#m4" x="135.4" y="33.5"/><use href="#m4" x="137.0" y="31.4"/><use href="#m4" x="137.5" y="30.8"/><use href="#m4" x="138.0" y="30.4"/><use href="#m4" x="139.7" y="30.4"/><use href="#m4" x="140.4" y="30.1"/><use href="#m4" x="141.7" y="30.7"/><use href="#m4" x="142.1" y="25.5"/><use href="#m4" x="143.4" y="27.7"/><use href="#m4" x="143.9" y="26.7"/><use href="#m4" x="144.6" y="24.6"/><use href="#m4" x="145.7" y="25.5"/><use href="#m4" x="146.6" y="26.8"/><use href="#m4" x="148.2" y="27.4"/><use href="#m4" x="149.3" y="25.8"/><use href="#m4" x="150.1" y="26.4"/><use href="#m4" x="151.3" y="24.3"/><use href="#m4" x="151.7" y="24.2"/><use href="#m4" x="152.8" y="23.3"/><use href="#m4" x="153.9" y="25.1"/><use href="#m4" x="155.7" y="20.1"/><use href="#m4" x="156.3" y="22.6"/><use href="#m4" x="157.2" y="22.9"/><use href="#m4" x="158.1" y="23.1"/><use href="#m4" x="159.0" y="20.4"/><use href="#m4" x="160.0" y="21.7"/><use href="#m4" x="161.3" y="19.1"/><use href="#m4" x="162.3" y="19.6"/><use href="#m4" x="163.6" y="20.1"/><use href="#m4" x="165.1" y="18.1"/><use href="#m4" x="165.4" y="18.1"/><use href="#m4" x="166.7" y="21.3"/><use href="#m4" x="168.4" y="21.8"/><use href="#m4" x="168.7" y="22.0"/><use href="#m4" x="170.1" y="21.0"/><use href="#m4" x="171.7" y="24.2"/><use href="#m4" x="172.1" y="20.0"/><use href="#m4" x="173.2" y="20.8"/><use href="#m4" x="173.8" y="21.9"/><use href="#m4" x="175.6" y="23.4"/><use href="#m4" x="175.9" y="25.1"/><use href="#m4" x="176.9" y="22.8"/><use href="#m4" x="178.2" y="24.6"/><use href="#m4" x="179.1" y="25.0"/><use href="#m4" x="180.1" y="26.1"/><use href="#m4" x="181.8" y="27.8"/><use href="#m4" x="182.6" y="26.0"/><use href="#m4" x="183.5" y="27.7"/><use href="#m4" x="184.3" y="28.1"/><use href="#m4" x="185.4" y="27.4"/><use href="#m4" x="186.8" y="27.1"/><use href="#m4" x="187.1" y="29.5"/><use href="#m4" x="188.1" y="29.8"/><use href="#m4" x="189.7" y="31.2"/><use href="#m4" x="190.8" y="29.0"/><use href="#m4" x="191.4" y="29.4"/><use href="#m4" x="192.7" y="29.0"/><use href="#m4" x="193.3" y="30.5"/><use href="#m4" x="194.8" y="32.6"/><use href="#m4" x="195.2" y="33.5"/><use href="#m4" x="196.4" y="32.7"/><use href="#m4" x="197.5" y="32.7"/><use href="#m4" x="197.8" y="31.1"/><use href="#m4" x="199.2" y="32.0"/><use href="#m4" x="199.8" y="34.4"/><use href="#m4" x="200.9" y="34.3"/><use href="#m4" x="202.4" y="34.3"/><use href="#m4" x="203.4" y="36.5"/><use href="#m4" x="204.3" y="38.4"/><use href="#m4" x="204.8" y="38.6"/><use href="#m4" x="205.7" y="40.5"/><use href="#m4" x="206.8" y="39.7"/><use href="#m4" x="207.3" y="40.3"/><use href="#m4" x="208.2" y="39.8"/><use href="#m4" x="209.6" y="41.3"/><use href="#m4" x="210.2" y="44.4"/><use href="#m4" x="211.5" y="41.3"/><use href="#m4" x="212.2" y="41.6"/><use href="#m4" x="213.3" y="44.5"/><use href="#m4" x="213.6" y="44.4"/><use href="#m4" x="214.8" y="46.2"/><use href="#m4" x="215.9" y="45.5"/><use href="#m4" x="216.0" y="46.0"/><use href="#m4" x="216.7" y="47.9"/><use href="#m4" x="217.8" y="47.4"/><use href="#m4" x="218.6" y="48.3"/><use href="#m4" x="219.9" y="49.9"/><use href="#m4" x="221.0" y="48.8"/><use href="#m4" x="221.4" y="51.0"/><use href="#m4" x="222.5" y="51.6"/><use href="#m4" x="223.4" y="50.2"/><use href="#m4" x="224.7" y="50.8"/><use href="#m4" x="224.7" y="51.7"/><use href="#m4" x="226.5" y="52.9"/><use href="#m4" x="226.7" y="53.2"/><use href="#m4" x="228.2" y="54.6"/><use href="#m4" x="228.8" y="54.8"/><use href="#m4" x="229.2" y="54.0"/><use href="#m4" x="229.9" y="59.3"/><use href="#m4" x="231.3" y="56.2"/><use href="#m4" x="232.6" y="57.6"/><use href="#m4" x="233.3" y="56.6"/><use href="#m4" x="233.2" y="59.1"/><use href="#m4" x="234.8" y="60.6"/><use href="#m4" x="235.5" y="59.0"/><use href="#m4" x="236.5" y="61.4"/><use href="#m4" x="236.7" y="62.6"/><use href="#m4" x="237.5" y="64.1"/><use href="#m4" x="238.4" y="65.1"/><use href="#m4" x="239.5" y="63.8"/><use href="#m4" x="240.1" y="65.7"/><use href="#m4" x="241.4" y="66.0"/><use href="#m4" x="241.8" y="66.5"/><use href="#m4" x="242.2" y="67.2"/><use href="#m4" x="243.7" y="70.4"/><use href="#m4" x="244.4" y="70.2"/><use href="#m4" x="245.1" y="71.6"/><use href="#m4" x="245.6" y="72.8"/><use href="#m4" x="247.1" y="71.7"/><use href="#m4" x="247.7" y="72.4"/><use href="#m4" x="248.9" y="73.1"/><use href="#m4" x="249.0" y="73.7"/><use href="#m4" x="249.8" y="75.7"/><use href="#m4" x="250.8" y="76.5"/><use href="#m4" x="252.1" y="76.3"/><use href="#m4" x="252.6" y="76.9"/><use href="#m4" x="252.9" y="79.3"/><use href="#m4" x="254.0" y="79.6"/><use href="#m4" x="255.1" y="80.1"/><use href="#m4" x="255.1" y="80.7"/><use href="#m4" x="256.1" y="79.4"/><use href="#m4" x="257.5" y="80.7"/><use href="#m4" x="258.4" y="83.3"/><use href="#m4" x="258.3" y="81.9"/><use href="#m4" x="259.4" y="84.6"/><use href="#m4" x="260.0" y="83.8"/><use href="#m4" x="261.0" y="86.0"/><use href="#m4" x="261.8" y="84.9"/><use href="#m4" x="262.9" y="85.9"/><use href="#m4" x="263.5" y="86.9"/><use href="#m4" x="264.1" y="89.1"/><use href="#m4" x="264.3" y="89.2"/><use href="#m4" x="265.6" y="89.0"/></g><rect x="64.65" y="149.35" width="3.3" height="3.3" fill="none" stroke="#ff2020" stroke-width="1.05"/><text x="80.49" y="154.9" font-family="Liberation Sans, sans-serif" font-weight="bold" font-size="10.7" fill="#000" textLength="18.71" lengthAdjust="spacingAndGlyphs">10%</text><circle cx="66.3" cy="164.3" r="2.2" fill="none" stroke="#22ee22" stroke-width="1.05"/><text x="80.73" y="168.2" font-family="Liberation Sans, sans-serif" font-weight="bold" font-size="10.7" fill="#000" textLength="18.47" lengthAdjust="spacingAndGlyphs">20%</text><path d="M66.3 175.4L68.5 179.25L64.1 179.25Z" fill="none" stroke="#2828d0" stroke-width="1.05"/><text x="80.82" y="181.5" font-family="Liberation Sans, sans-serif" font-weight="bold" font-size="10.7" fill="#000" textLength="18.37" lengthAdjust="spacingAndGlyphs">30%</text><path d="M66.3 193.1L68.5 189.25L64.1 189.25Z" fill="none" stroke="#8b1c1c" stroke-width="1.05"/><text x="80.91" y="194.8" font-family="Liberation Sans, sans-serif" font-weight="bold" font-size="10.7" fill="#000" textLength="18.28" lengthAdjust="spacingAndGlyphs">40%</text><path d="M66.3 202L68.5 204.2L66.3 206.4L64.1 204.2Z" fill="none" stroke="#111" stroke-width="1.05"/><text x="80.77" y="208.1" font-family="Liberation Sans, sans-serif" font-weight="bold" font-size="10.7" fill="#000" textLength="18.42" lengthAdjust="spacingAndGlyphs">50%</text><path d="M393.7 226.2L393.7 222.2M393.7 5.3L393.7 9.3M440.7 226.2L440.7 222.2M440.7 5.3L440.7 9.3M487.7 226.2L487.7 222.2M487.7 5.3L487.7 9.3M534.7 226.2L534.7 222.2M534.7 5.3L534.7 9.3M581.7 226.2L581.7 222.2M581.7 5.3L581.7 9.3M628.7 226.2L628.7 222.2M628.7 5.3L628.7 9.3M417.2 226.2L417.2 224.2M417.2 5.3L417.2 7.3M464.2 226.2L464.2 224.2M464.2 5.3L464.2 7.3M511.2 226.2L511.2 224.2M511.2 5.3L511.2 7.3M558.2 226.2L558.2 224.2M558.2 5.3L558.2 7.3M605.2 226.2L605.2 224.2M605.2 5.3L605.2 7.3M370.2 212.5L374.2 212.5M628.6 212.5L624.6 212.5M370.2 186.6L374.2 186.6M628.6 186.6L624.6 186.6M370.2 160.7L374.2 160.7M628.6 160.7L624.6 160.7M370.2 134.8L374.2 134.8M628.6 134.8L624.6 134.8M370.2 108.9L374.2 108.9M628.6 108.9L624.6 108.9M370.2 83L374.2 83M628.6 83L624.6 83M370.2 57.1L374.2 57.1M628.6 57.1L624.6 57.1M370.2 31.2L374.2 31.2M628.6 31.2L624.6 31.2M370.2 5.3L374.2 5.3M628.6 5.3L624.6 5.3M370.2 225.45L372.2 225.45M628.6 225.45L626.6 225.45M370.2 199.55L372.2 199.55M628.6 199.55L626.6 199.55M370.2 173.65L372.2 173.65M628.6 173.65L626.6 173.65M370.2 147.75L372.2 147.75M628.6 147.75L626.6 147.75M370.2 121.85L372.2 121.85M628.6 121.85L626.6 121.85M370.2 95.95L372.2 95.95M628.6 95.95L626.6 95.95M370.2 70.05L372.2 70.05M628.6 70.05L626.6 70.05M370.2 44.15L372.2 44.15M628.6 44.15L626.6 44.15M370.2 18.25L372.2 18.25M628.6 18.25L626.6 18.25" stroke="#1a1a1a" stroke-width="1.1" fill="none"/><rect x="370.2" y="5.3" width="258.4" height="220.9" fill="none" stroke="#1a1a1a" stroke-width="1.3"/><text x="386.42" y="237.8" font-family="Liberation Sans, sans-serif" font-weight="bold" font-size="9.7" fill="#000" textLength="14.82" lengthAdjust="spacingAndGlyphs">400</text><text x="433.35" y="237.8" font-family="Liberation Sans, sans-serif" font-weight="bold" font-size="9.7" fill="#000" textLength="14.82" lengthAdjust="spacingAndGlyphs">500</text><text x="480.33" y="237.8" font-family="Liberation Sans, sans-serif" font-weight="bold" font-size="9.7" fill="#000" textLength="14.82" lengthAdjust="spacingAndGlyphs">600</text><text x="527.31" y="237.8" font-family="Liberation Sans, sans-serif" font-weight="bold" font-size="9.7" fill="#000" textLength="14.82" lengthAdjust="spacingAndGlyphs">700</text><text x="574.35" y="237.8" font-family="Liberation Sans, sans-serif" font-weight="bold" font-size="9.7" fill="#000" textLength="14.82" lengthAdjust="spacingAndGlyphs">800</text><text x="621.33" y="237.8" font-family="Liberation Sans, sans-serif" font-weight="bold" font-size="9.7" fill="#000" textLength="14.82" lengthAdjust="spacingAndGlyphs">900</text><text x="348.52" y="215.4" font-family="Liberation Sans, sans-serif" font-weight="bold" font-size="9.6" fill="#000" textLength="17.72" lengthAdjust="spacingAndGlyphs">0.65</text><text x="348.65" y="189.5" font-family="Liberation Sans, sans-serif" font-weight="bold" font-size="9.6" fill="#000" textLength="17.72" lengthAdjust="spacingAndGlyphs">0.70</text><text x="348.52" y="163.6" font-family="Liberation Sans, sans-serif" font-weight="bold" font-size="9.6" fill="#000" textLength="17.72" lengthAdjust="spacingAndGlyphs">0.75</text><text x="348.65" y="137.7" font-family="Liberation Sans, sans-serif" font-weight="bold" font-size="9.6" fill="#000" textLength="17.72" lengthAdjust="spacingAndGlyphs">0.80</text><text x="348.52" y="111.8" font-family="Liberation Sans, sans-serif" font-weight="bold" font-size="9.6" fill="#000" textLength="17.72" lengthAdjust="spacingAndGlyphs">0.85</text><text x="348.65" y="85.9" font-family="Liberation Sans, sans-serif" font-weight="bold" font-size="9.6" fill="#000" textLength="17.72" lengthAdjust="spacingAndGlyphs">0.90</text><text x="348.52" y="60" font-family="Liberation Sans, sans-serif" font-weight="bold" font-size="9.6" fill="#000" textLength="17.72" lengthAdjust="spacingAndGlyphs">0.95</text><text x="348.65" y="34.1" font-family="Liberation Sans, sans-serif" font-weight="bold" font-size="9.6" fill="#000" textLength="17.72" lengthAdjust="spacingAndGlyphs">1.00</text><text x="348.52" y="8.2" font-family="Liberation Sans, sans-serif" font-weight="bold" font-size="9.6" fill="#000" textLength="17.72" lengthAdjust="spacingAndGlyphs">1.05</text><text x="426.15" y="256.6" font-family="Liberation Sans, sans-serif" font-weight="bold" font-size="11.6" fill="#000" textLength="146.23" lengthAdjust="spacingAndGlyphs">Resonance wavelength (nm)</text><text transform="translate(344 180.29) rotate(-90)" x="0" y="0" font-family="Liberation Sans, sans-serif" font-weight="bold" font-size="11.1" fill="#000" textLength="129.06" lengthAdjust="spacingAndGlyphs">Normalized absorbance</text><text x="438.71" y="295" font-family="Liberation Serif, serif" font-weight="bold" font-size="15.2" fill="#000" textLength="20.03" lengthAdjust="spacingAndGlyphs">(b)</text><g><use href="#m5" x="393.1" y="120.5"/><use href="#m5" x="394.6" y="119.2"/><use href="#m5" x="394.8" y="118.4"/><use href="#m5" x="395.5" y="118.0"/><use href="#m5" x="396.7" y="117.8"/><use href="#m5" x="396.3" y="117.3"/><use href="#m5" x="397.8" y="115.0"/><use href="#m5" x="398.1" y="114.6"/><use href="#m5" x="397.9" y="112.9"/><use href="#m5" x="398.6" y="111.4"/><use href="#m5" x="399.9" y="110.7"/><use href="#m5" x="399.9" y="112.0"/><use href="#m5" x="400.3" y="109.9"/><use href="#m5" x="401.3" y="108.0"/><use href="#m5" x="401.3" y="104.3"/><use href="#m5" x="402.7" y="106.0"/><use href="#m5" x="403.1" y="107.2"/><use href="#m5" x="403.9" y="107.6"/><use href="#m5" x="404.5" y="102.3"/><use href="#m5" x="404.8" y="102.0"/><use href="#m5" x="404.6" y="101.2"/><use href="#m5" x="405.4" y="100.7"/><use href="#m5" x="405.7" y="101.1"/><use href="#m5" x="407.1" y="98.3"/><use href="#m5" x="407.5" y="100.5"/><use href="#m5" x="407.7" y="98.4"/><use href="#m5" x="408.1" y="98.0"/><use href="#m5" x="408.5" y="94.8"/><use href="#m5" x="409.1" y="93.5"/><use href="#m5" x="410.2" y="94.4"/><use href="#m5" x="410.8" y="92.2"/><use href="#m5" x="411.0" y="92.1"/><use href="#m5" x="411.9" y="91.2"/><use href="#m5" x="412.5" y="90.7"/><use href="#m5" x="412.9" y="88.5"/><use href="#m5" x="413.5" y="87.9"/><use href="#m5" x="414.2" y="87.7"/><use href="#m5" x="414.4" y="84.3"/><use href="#m5" x="415.0" y="84.5"/><use href="#m5" x="415.6" y="85.1"/><use href="#m5" x="416.2" y="81.3"/><use href="#m5" x="416.3" y="80.9"/><use href="#m5" x="417.2" y="81.3"/><use href="#m5" x="417.7" y="80.5"/><use href="#m5" x="418.1" y="78.2"/><use href="#m5" x="418.7" y="78.4"/><use href="#m5" x="418.9" y="75.6"/><use href="#m5" x="419.6" y="75.5"/><use href="#m5" x="420.1" y="73.8"/><use href="#m5" x="420.4" y="74.5"/><use href="#m5" x="421.2" y="72.7"/><use href="#m5" x="421.3" y="70.9"/><use href="#m5" x="421.9" y="70.9"/><use href="#m5" x="422.6" y="69.7"/><use href="#m5" x="423.2" y="68.3"/><use href="#m5" x="423.6" y="68.6"/><use href="#m5" x="424.1" y="67.3"/><use href="#m5" x="424.7" y="66.9"/><use href="#m5" x="425.1" y="65.4"/><use href="#m5" x="425.9" y="63.5"/><use href="#m5" x="426.6" y="62.7"/><use href="#m5" x="427.2" y="60.7"/><use href="#m5" x="427.8" y="62.0"/><use href="#m5" x="428.7" y="61.0"/><use href="#m5" x="429.4" y="60.2"/><use href="#m5" x="429.9" y="58.7"/><use href="#m5" x="430.8" y="58.6"/><use href="#m5" x="431.2" y="57.4"/><use href="#m5" x="431.9" y="56.7"/><use href="#m5" x="432.7" y="56.0"/><use href="#m5" x="433.1" y="55.2"/><use href="#m5" x="433.7" y="53.4"/><use href="#m5" x="434.3" y="52.9"/><use href="#m5" x="434.6" y="52.1"/><use href="#m5" x="435.4" y="51.4"/><use href="#m5" x="435.8" y="50.7"/><use href="#m5" x="436.5" y="49.0"/><use href="#m5" x="437.3" y="48.3"/><use href="#m5" x="438.0" y="46.7"/><use href="#m5" x="438.6" y="45.0"/><use href="#m5" x="438.9" y="45.6"/><use href="#m5" x="439.6" y="44.3"/><use href="#m5" x="440.3" y="43.6"/><use href="#m5" x="440.8" y="43.1"/><use href="#m5" x="441.5" y="42.0"/><use href="#m5" x="442.5" y="41.2"/><use href="#m5" x="443.1" y="40.0"/><use href="#m5" x="443.9" y="39.2"/><use href="#m5" x="444.3" y="38.3"/><use href="#m5" x="445.2" y="38.1"/><use href="#m5" x="446.3" y="37.8"/><use href="#m5" x="447.4" y="36.6"/><use href="#m5" x="448.2" y="36.2"/><use href="#m5" x="449.3" y="36.1"/><use href="#m5" x="450.4" y="36.7"/><use href="#m5" x="451.4" y="36.0"/><use href="#m5" x="452.6" y="35.6"/><use href="#m5" x="453.4" y="34.8"/><use href="#m5" x="454.4" y="34.8"/><use href="#m5" x="455.5" y="33.8"/><use href="#m5" x="456.8" y="33.9"/><use href="#m5" x="457.6" y="34.0"/><use href="#m5" x="458.8" y="33.6"/><use href="#m5" x="459.7" y="32.8"/><use href="#m5" x="460.8" y="32.0"/><use href="#m5" x="461.8" y="30.7"/><use href="#m5" x="463.0" y="31.9"/><use href="#m5" x="463.9" y="32.9"/><use href="#m5" x="465.2" y="31.3"/><use href="#m5" x="466.1" y="31.0"/><use href="#m5" x="467.3" y="32.5"/><use href="#m5" x="468.4" y="32.2"/><use href="#m5" x="469.6" y="31.8"/><use href="#m5" x="470.5" y="33.8"/><use href="#m5" x="471.6" y="32.3"/><use href="#m5" x="472.7" y="33.7"/><use href="#m5" x="473.8" y="34.0"/><use href="#m5" x="474.9" y="33.6"/><use href="#m5" x="475.7" y="34.3"/><use href="#m5" x="477.0" y="35.6"/><use href="#m5" x="477.9" y="35.6"/><use href="#m5" x="478.8" y="35.3"/><use href="#m5" x="479.8" y="36.7"/><use href="#m5" x="480.6" y="36.8"/><use href="#m5" x="481.5" y="38.5"/><use href="#m5" x="482.2" y="38.5"/><use href="#m5" x="483.2" y="39.5"/><use href="#m5" x="483.8" y="41.3"/><use href="#m5" x="484.6" y="40.4"/><use href="#m5" x="485.5" y="41.2"/><use href="#m5" x="486.3" y="41.9"/><use href="#m5" x="486.9" y="43.4"/><use href="#m5" x="487.7" y="44.2"/><use href="#m5" x="488.9" y="43.3"/><use href="#m5" x="489.4" y="45.2"/><use href="#m5" x="490.5" y="45.4"/><use href="#m5" x="491.1" y="45.8"/><use href="#m5" x="491.9" y="47.7"/><use href="#m5" x="492.9" y="48.1"/><use href="#m5" x="493.4" y="48.3"/><use href="#m5" x="494.2" y="50.1"/><use href="#m5" x="495.1" y="50.7"/><use href="#m5" x="495.9" y="50.9"/><use href="#m5" x="496.6" y="52.0"/><use href="#m5" x="497.6" y="53.5"/><use href="#m5" x="498.3" y="53.4"/><use href="#m5" x="499.0" y="54.6"/><use href="#m5" x="499.7" y="55.7"/><use href="#m5" x="500.7" y="55.8"/><use href="#m5" x="501.7" y="56.5"/><use href="#m5" x="502.5" y="56.8"/><use href="#m5" x="503.2" y="58.2"/><use href="#m5" x="504.2" y="58.2"/><use href="#m5" x="504.7" y="59.8"/><use href="#m5" x="505.5" y="59.7"/><use href="#m5" x="506.2" y="61.0"/><use href="#m5" x="506.9" y="62.1"/><use href="#m5" x="507.4" y="62.8"/><use href="#m5" x="508.0" y="64.6"/><use href="#m5" x="508.6" y="64.7"/><use href="#m5" x="509.3" y="65.9"/><use href="#m5" x="509.9" y="67.7"/><use href="#m5" x="510.4" y="67.5"/><use href="#m5" x="511.5" y="68.1"/><use href="#m5" x="512.0" y="69.2"/><use href="#m5" x="512.6" y="70.4"/><use href="#m5" x="513.4" y="70.9"/><use href="#m5" x="514.1" y="71.5"/><use href="#m5" x="514.6" y="72.1"/><use href="#m5" x="515.4" y="72.9"/><use href="#m5" x="516.0" y="74.4"/><use href="#m5" x="516.6" y="74.2"/><use href="#m5" x="517.6" y="74.8"/><use href="#m5" x="518.2" y="76.2"/><use href="#m5" x="518.7" y="77.9"/><use href="#m5" x="519.4" y="78.5"/><use href="#m5" x="520.3" y="80.0"/><use href="#m5" x="521.1" y="79.5"/><use href="#m5" x="521.7" y="81.3"/><use href="#m5" x="522.1" y="82.3"/><use href="#m5" x="522.9" y="82.7"/><use href="#m5" x="523.7" y="84.1"/><use href="#m5" x="524.3" y="84.7"/><use href="#m5" x="525.0" y="84.9"/><use href="#m5" x="525.9" y="87.1"/><use href="#m5" x="526.3" y="87.0"/><use href="#m5" x="526.8" y="88.2"/><use href="#m5" x="527.3" y="89.3"/><use href="#m5" x="528.0" y="89.8"/><use href="#m5" x="528.6" y="90.3"/><use href="#m5" x="529.2" y="91.8"/><use href="#m5" x="529.7" y="92.8"/><use href="#m5" x="530.3" y="93.9"/><use href="#m5" x="531.0" y="95.2"/><use href="#m5" x="531.4" y="95.3"/><use href="#m5" x="531.9" y="96.1"/><use href="#m5" x="532.6" y="98.0"/><use href="#m5" x="533.2" y="98.6"/><use href="#m5" x="534.0" y="99.7"/><use href="#m5" x="534.7" y="100.8"/><use href="#m5" x="535.1" y="101.9"/><use href="#m5" x="535.4" y="100.9"/><use href="#m5" x="535.9" y="101.9"/><use href="#m5" x="536.5" y="104.0"/><use href="#m5" x="537.1" y="105.2"/><use href="#m5" x="537.6" y="107.1"/><use href="#m5" x="538.3" y="106.6"/><use href="#m5" x="538.8" y="108.8"/><use href="#m5" x="539.4" y="109.5"/><use href="#m5" x="539.8" y="110.5"/><use href="#m5" x="540.4" y="110.7"/><use href="#m5" x="540.6" y="112.1"/><use href="#m5" x="541.2" y="112.1"/><use href="#m5" x="541.8" y="113.4"/><use href="#m5" x="542.6" y="114.4"/><use href="#m5" x="543.1" y="115.0"/><use href="#m5" x="543.4" y="116.9"/><use href="#m5" x="544.3" y="116.4"/><use href="#m5" x="544.9" y="117.9"/><use href="#m5" x="545.2" y="119.2"/><use href="#m5" x="545.9" y="120.6"/><use href="#m5" x="546.7" y="120.9"/><use href="#m5" x="547.0" y="122.2"/><use href="#m5" x="547.8" y="122.8"/><use href="#m5" x="548.1" y="123.4"/><use href="#m5" x="548.9" y="124.9"/><use href="#m5" x="549.3" y="125.9"/><use href="#m5" x="550.2" y="126.2"/><use href="#m5" x="550.4" y="127.7"/><use href="#m5" x="551.3" y="128.6"/><use href="#m5" x="551.7" y="129.3"/><use href="#m5" x="552.5" y="129.7"/><use href="#m5" x="552.8" y="130.4"/><use href="#m5" x="553.5" y="131.2"/><use href="#m5" x="554.1" y="133.0"/><use href="#m5" x="554.7" y="134.5"/><use href="#m5" x="555.1" y="135.1"/><use href="#m5" x="556.1" y="136.6"/><use href="#m5" x="556.6" y="137.5"/><use href="#m5" x="557.3" y="137.2"/><use href="#m5" x="557.6" y="138.6"/><use href="#m5" x="558.4" y="139.0"/><use href="#m5" x="559.0" y="140.1"/><use href="#m5" x="559.9" y="140.8"/><use href="#m5" x="560.4" y="141.5"/><use href="#m5" x="560.9" y="143.1"/><use href="#m5" x="561.6" y="143.9"/><use href="#m5" x="562.3" y="144.4"/><use href="#m5" x="562.9" y="145.8"/><use href="#m5" x="563.5" y="147.0"/><use href="#m5" x="564.2" y="147.4"/><use href="#m5" x="564.8" y="149.6"/><use href="#m5" x="565.4" y="150.2"/><use href="#m5" x="565.8" y="150.6"/><use href="#m5" x="566.3" y="151.6"/><use href="#m5" x="566.9" y="151.9"/><use href="#m5" x="567.5" y="153.0"/><use href="#m5" x="568.2" y="155.0"/><use href="#m5" x="568.6" y="155.8"/><use href="#m5" x="569.4" y="156.1"/><use href="#m5" x="569.9" y="157.5"/><use href="#m5" x="570.6" y="157.3"/><use href="#m5" x="571.4" y="159.2"/><use href="#m5" x="571.7" y="159.7"/><use href="#m5" x="572.6" y="160.6"/><use href="#m5" x="573.1" y="161.8"/><use href="#m5" x="573.8" y="162.1"/><use href="#m5" x="574.5" y="163.3"/><use href="#m5" x="575.0" y="163.4"/><use href="#m5" x="575.8" y="165.3"/><use href="#m5" x="576.2" y="166.6"/><use href="#m5" x="577.0" y="166.9"/><use href="#m5" x="577.7" y="167.5"/><use href="#m5" x="578.4" y="168.5"/><use href="#m5" x="579.0" y="169.8"/><use href="#m5" x="579.7" y="170.7"/><use href="#m5" x="580.2" y="170.7"/><use href="#m5" x="580.9" y="172.3"/><use href="#m5" x="581.3" y="172.7"/><use href="#m5" x="582.2" y="173.4"/><use href="#m5" x="582.5" y="174.4"/><use href="#m5" x="583.4" y="175.4"/><use href="#m5" x="584.0" y="177.5"/><use href="#m5" x="584.4" y="177.8"/><use href="#m5" x="585.0" y="178.3"/><use href="#m5" x="585.7" y="179.4"/><use href="#m5" x="586.2" y="180.8"/><use href="#m5" x="586.7" y="180.8"/><use href="#m5" x="587.1" y="182.9"/><use href="#m5" x="587.9" y="183.7"/><use href="#m5" x="588.2" y="183.8"/><use href="#m5" x="588.8" y="185.2"/><use href="#m5" x="589.4" y="186.2"/><use href="#m5" x="589.9" y="187.1"/><use href="#m5" x="590.4" y="187.7"/><use href="#m5" x="591.3" y="190.0"/><use href="#m5" x="592.0" y="189.6"/><use href="#m5" x="592.6" y="190.5"/><use href="#m5" x="593.0" y="191.7"/><use href="#m5" x="593.6" y="193.0"/><use href="#m5" x="594.3" y="193.0"/><use href="#m5" x="595.0" y="194.8"/><use href="#m5" x="595.8" y="196.2"/><use href="#m5" x="596.3" y="196.0"/><use href="#m5" x="596.9" y="197.2"/><use href="#m5" x="597.8" y="197.4"/><use href="#m5" x="598.4" y="198.9"/><use href="#m5" x="599.2" y="201.0"/><use href="#m5" x="599.8" y="200.4"/><use href="#m5" x="600.7" y="201.0"/><use href="#m5" x="601.2" y="201.8"/><use href="#m5" x="601.9" y="203.4"/><use href="#m5" x="602.6" y="203.2"/><use href="#m5" x="603.2" y="204.4"/><use href="#m5" x="603.8" y="206.1"/><use href="#m5" x="604.0" y="207.5"/><use href="#m5" x="604.7" y="208.4"/></g><g><use href="#m6" x="393.0" y="125.3"/><use href="#m6" x="394.3" y="127.7"/><use href="#m6" x="394.2" y="124.9"/><use href="#m6" x="395.6" y="123.8"/><use href="#m6" x="396.6" y="128.5"/><use href="#m6" x="396.7" y="125.3"/><use href="#m6" x="397.6" y="123.7"/><use href="#m6" x="397.4" y="121.4"/><use href="#m6" x="398.1" y="121.1"/><use href="#m6" x="399.4" y="120.0"/><use href="#m6" x="399.7" y="119.5"/><use href="#m6" x="400.7" y="120.9"/><use href="#m6" x="401.2" y="117.4"/><use href="#m6" x="402.1" y="116.7"/><use href="#m6" x="402.4" y="117.2"/><use href="#m6" x="402.8" y="118.6"/><use href="#m6" x="403.3" y="116.2"/><use href="#m6" x="404.0" y="116.3"/><use href="#m6" x="404.6" y="114.2"/><use href="#m6" x="404.7" y="111.6"/><use href="#m6" x="405.4" y="114.6"/><use href="#m6" x="405.9" y="114.5"/><use href="#m6" x="406.8" y="109.3"/><use href="#m6" x="407.1" y="112.4"/><use href="#m6" x="408.2" y="110.7"/><use href="#m6" x="408.5" y="110.4"/><use href="#m6" x="409.4" y="112.4"/><use href="#m6" x="409.8" y="105.7"/><use href="#m6" x="410.7" y="109.7"/><use href="#m6" x="410.8" y="108.9"/><use href="#m6" x="411.4" y="106.4"/><use href="#m6" x="412.3" y="106.2"/><use href="#m6" x="412.2" y="104.8"/><use href="#m6" x="413.2" y="104.5"/><use href="#m6" x="413.7" y="105.5"/><use href="#m6" x="414.4" y="102.5"/><use href="#m6" x="414.8" y="101.3"/><use href="#m6" x="415.1" y="100.6"/><use href="#m6" x="416.1" y="101.4"/><use href="#m6" x="416.6" y="100.1"/><use href="#m6" x="417.0" y="98.5"/><use href="#m6" x="417.5" y="100.0"/><use href="#m6" x="418.1" y="96.8"/><use href="#m6" x="418.3" y="98.0"/><use href="#m6" x="419.3" y="96.3"/><use href="#m6" x="419.6" y="95.1"/><use href="#m6" x="420.4" y="95.0"/><use href="#m6" x="420.8" y="93.6"/><use href="#m6" x="421.3" y="94.5"/><use href="#m6" x="421.5" y="92.5"/><use href="#m6" x="422.0" y="93.0"/><use href="#m6" x="422.5" y="91.1"/><use href="#m6" x="422.9" y="89.7"/><use href="#m6" x="423.5" y="90.3"/><use href="#m6" x="424.0" y="88.9"/><use href="#m6" x="424.3" y="88.0"/><use href="#m6" x="424.7" y="87.1"/><use href="#m6" x="425.2" y="86.8"/><use href="#m6" x="426.0" y="85.7"/><use href="#m6" x="426.2" y="84.8"/><use href="#m6" x="426.8" y="83.4"/><use href="#m6" x="427.5" y="84.3"/><use href="#m6" x="428.0" y="82.6"/><use href="#m6" x="428.5" y="82.5"/><use href="#m6" x="429.0" y="81.1"/><use href="#m6" x="429.7" y="80.1"/><use href="#m6" x="429.9" y="80.7"/><use href="#m6" x="430.6" y="78.6"/><use href="#m6" x="430.8" y="79.4"/><use href="#m6" x="431.8" y="78.1"/><use href="#m6" x="432.2" y="77.1"/><use href="#m6" x="432.6" y="76.3"/><use href="#m6" x="433.3" y="75.7"/><use href="#m6" x="433.7" y="74.7"/><use href="#m6" x="434.5" y="73.7"/><use href="#m6" x="435.0" y="73.7"/><use href="#m6" x="435.6" y="72.8"/><use href="#m6" x="436.1" y="72.3"/><use href="#m6" x="436.6" y="71.5"/><use href="#m6" x="437.1" y="70.9"/><use href="#m6" x="437.7" y="70.5"/><use href="#m6" x="438.3" y="68.7"/><use href="#m6" x="438.7" y="69.2"/><use href="#m6" x="439.5" y="66.7"/><use href="#m6" x="440.1" y="67.8"/><use href="#m6" x="440.6" y="66.9"/><use href="#m6" x="440.9" y="65.5"/><use href="#m6" x="441.6" y="65.3"/><use href="#m6" x="442.2" y="64.0"/><use href="#m6" x="442.6" y="63.4"/><use href="#m6" x="443.4" y="63.4"/><use href="#m6" x="444.0" y="62.0"/><use href="#m6" x="444.5" y="61.4"/><use href="#m6" x="445.1" y="60.3"/><use href="#m6" x="445.6" y="61.3"/><use href="#m6" x="446.2" y="60.0"/><use href="#m6" x="446.8" y="59.4"/><use href="#m6" x="447.4" y="58.8"/><use href="#m6" x="448.2" y="57.9"/><use href="#m6" x="448.7" y="56.7"/><use href="#m6" x="449.6" y="56.1"/><use href="#m6" x="450.0" y="55.7"/><use href="#m6" x="450.5" y="54.8"/><use href="#m6" x="451.1" y="55.1"/><use href="#m6" x="451.5" y="53.8"/><use href="#m6" x="452.0" y="52.3"/><use href="#m6" x="452.7" y="52.2"/><use href="#m6" x="453.1" y="51.9"/><use href="#m6" x="453.9" y="51.3"/><use href="#m6" x="454.1" y="50.8"/><use href="#m6" x="454.7" y="48.2"/><use href="#m6" x="455.2" y="48.3"/><use href="#m6" x="455.8" y="48.1"/><use href="#m6" x="456.3" y="46.8"/><use href="#m6" x="456.9" y="46.2"/><use href="#m6" x="457.4" y="45.7"/><use href="#m6" x="458.0" y="44.7"/><use href="#m6" x="458.8" y="44.7"/><use href="#m6" x="459.2" y="44.3"/><use href="#m6" x="459.7" y="43.6"/><use href="#m6" x="460.4" y="42.8"/><use href="#m6" x="461.1" y="42.5"/><use href="#m6" x="461.6" y="40.9"/><use href="#m6" x="462.6" y="40.0"/><use href="#m6" x="463.1" y="40.8"/><use href="#m6" x="463.7" y="39.1"/><use href="#m6" x="464.7" y="38.2"/><use href="#m6" x="465.3" y="37.9"/><use href="#m6" x="465.8" y="38.0"/><use href="#m6" x="466.8" y="38.2"/><use href="#m6" x="467.4" y="36.7"/><use href="#m6" x="468.1" y="35.7"/><use href="#m6" x="469.0" y="36.0"/><use href="#m6" x="470.0" y="35.0"/><use href="#m6" x="470.8" y="35.2"/><use href="#m6" x="471.5" y="35.0"/><use href="#m6" x="472.4" y="33.8"/><use href="#m6" x="473.1" y="34.2"/><use href="#m6" x="473.8" y="33.7"/><use href="#m6" x="474.7" y="34.6"/><use href="#m6" x="475.8" y="32.7"/><use href="#m6" x="476.6" y="34.0"/><use href="#m6" x="477.5" y="32.0"/><use href="#m6" x="478.4" y="31.7"/><use href="#m6" x="479.0" y="32.2"/><use href="#m6" x="480.0" y="32.0"/><use href="#m6" x="480.8" y="31.7"/><use href="#m6" x="481.9" y="31.7"/><use href="#m6" x="482.6" y="31.0"/><use href="#m6" x="483.4" y="32.2"/><use href="#m6" x="484.4" y="31.3"/><use href="#m6" x="485.2" y="32.3"/><use href="#m6" x="486.4" y="32.5"/><use href="#m6" x="487.3" y="32.8"/><use href="#m6" x="488.1" y="32.2"/><use href="#m6" x="488.8" y="33.1"/><use href="#m6" x="489.7" y="32.8"/><use href="#m6" x="490.5" y="33.9"/><use href="#m6" x="491.5" y="33.3"/><use href="#m6" x="492.4" y="33.5"/><use href="#m6" x="493.1" y="33.8"/><use href="#m6" x="494.0" y="34.1"/><use href="#m6" x="494.9" y="33.7"/><use href="#m6" x="495.6" y="33.9"/><use href="#m6" x="496.5" y="34.9"/><use href="#m6" x="497.2" y="35.3"/><use href="#m6" x="498.1" y="35.8"/><use href="#m6" x="499.0" y="36.0"/><use href="#m6" x="499.7" y="36.6"/><use href="#m6" x="500.6" y="36.6"/><use href="#m6" x="501.5" y="37.6"/><use href="#m6" x="502.2" y="38.2"/><use href="#m6" x="503.1" y="39.2"/><use href="#m6" x="503.9" y="38.2"/><use href="#m6" x="504.7" y="40.0"/><use href="#m6" x="505.5" y="40.5"/><use href="#m6" x="506.0" y="40.5"/><use href="#m6" x="506.7" y="40.9"/><use href="#m6" x="507.6" y="41.5"/><use href="#m6" x="508.4" y="41.7"/><use href="#m6" x="508.9" y="42.0"/><use href="#m6" x="509.6" y="43.3"/><use href="#m6" x="510.1" y="43.6"/><use href="#m6" x="511.1" y="44.0"/><use href="#m6" x="511.7" y="45.2"/><use href="#m6" x="512.2" y="45.2"/><use href="#m6" x="513.0" y="45.6"/><use href="#m6" x="513.8" y="46.5"/><use href="#m6" x="514.3" y="47.3"/><use href="#m6" x="514.9" y="47.9"/><use href="#m6" x="515.6" y="47.6"/><use href="#m6" x="516.6" y="48.0"/><use href="#m6" x="517.2" y="49.6"/><use href="#m6" x="517.9" y="50.4"/><use href="#m6" x="518.5" y="50.9"/><use href="#m6" x="519.3" y="50.9"/><use href="#m6" x="520.0" y="51.9"/><use href="#m6" x="520.6" y="52.1"/><use href="#m6" x="521.2" y="51.9"/><use href="#m6" x="522.0" y="53.3"/><use href="#m6" x="522.8" y="53.6"/><use href="#m6" x="523.5" y="54.5"/><use href="#m6" x="524.1" y="54.7"/><use href="#m6" x="524.5" y="56.0"/><use href="#m6" x="525.4" y="55.9"/><use href="#m6" x="525.8" y="56.9"/><use href="#m6" x="526.5" y="57.2"/><use href="#m6" x="527.1" y="58.1"/><use href="#m6" x="527.4" y="58.8"/><use href="#m6" x="528.0" y="60.4"/><use href="#m6" x="528.5" y="60.2"/><use href="#m6" x="529.4" y="61.0"/><use href="#m6" x="529.7" y="62.0"/><use href="#m6" x="530.2" y="63.4"/><use href="#m6" x="530.8" y="62.7"/><use href="#m6" x="531.4" y="63.3"/><use href="#m6" x="532.1" y="63.8"/><use href="#m6" x="532.7" y="65.6"/><use href="#m6" x="533.1" y="66.5"/><use href="#m6" x="533.7" y="67.0"/><use href="#m6" x="534.2" y="67.3"/><use href="#m6" x="534.8" y="68.5"/><use href="#m6" x="535.5" y="69.5"/><use href="#m6" x="535.9" y="69.3"/><use href="#m6" x="536.6" y="70.4"/><use href="#m6" x="536.8" y="71.7"/><use href="#m6" x="537.6" y="71.2"/><use href="#m6" x="538.2" y="73.1"/><use href="#m6" x="538.4" y="73.7"/><use href="#m6" x="539.1" y="73.2"/><use href="#m6" x="539.6" y="75.0"/><use href="#m6" x="540.2" y="76.3"/><use href="#m6" x="540.5" y="76.8"/><use href="#m6" x="541.1" y="77.8"/><use href="#m6" x="541.9" y="77.7"/><use href="#m6" x="542.4" y="79.1"/><use href="#m6" x="542.7" y="80.1"/><use href="#m6" x="543.2" y="79.6"/><use href="#m6" x="543.8" y="80.1"/><use href="#m6" x="544.3" y="81.8"/><use href="#m6" x="544.7" y="82.2"/><use href="#m6" x="545.2" y="83.1"/><use href="#m6" x="545.9" y="83.6"/><use href="#m6" x="546.6" y="84.0"/><use href="#m6" x="547.0" y="85.9"/><use href="#m6" x="547.7" y="85.2"/><use href="#m6" x="547.9" y="86.4"/><use href="#m6" x="548.6" y="87.5"/><use href="#m6" x="548.9" y="88.4"/><use href="#m6" x="549.5" y="88.8"/><use href="#m6" x="550.0" y="89.2"/><use href="#m6" x="550.4" y="90.3"/><use href="#m6" x="550.8" y="91.2"/><use href="#m6" x="551.5" y="92.4"/><use href="#m6" x="551.9" y="93.8"/><use href="#m6" x="552.1" y="93.0"/><use href="#m6" x="552.6" y="93.8"/><use href="#m6" x="553.1" y="94.0"/><use href="#m6" x="553.7" y="96.2"/><use href="#m6" x="553.9" y="95.8"/><use href="#m6" x="554.4" y="97.4"/><use href="#m6" x="554.9" y="99.0"/><use href="#m6" x="555.3" y="99.1"/><use href="#m6" x="556.0" y="100.1"/><use href="#m6" x="556.5" y="100.5"/><use href="#m6" x="556.8" y="100.9"/><use href="#m6" x="557.6" y="102.9"/><use href="#m6" x="557.7" y="102.2"/><use href="#m6" x="558.5" y="102.9"/><use href="#m6" x="558.9" y="104.7"/><use href="#m6" x="559.3" y="104.9"/><use href="#m6" x="559.7" y="105.6"/><use href="#m6" x="560.4" y="105.1"/><use href="#m6" x="560.9" y="107.1"/><use href="#m6" x="561.4" y="108.0"/><use href="#m6" x="561.9" y="109.9"/><use href="#m6" x="562.2" y="108.6"/><use href="#m6" x="562.8" y="110.0"/><use href="#m6" x="563.3" y="111.3"/><use href="#m6" x="563.7" y="112.2"/><use href="#m6" x="564.4" y="111.9"/><use href="#m6" x="564.8" y="113.3"/><use href="#m6" x="565.3" y="114.6"/><use href="#m6" x="565.8" y="114.9"/><use href="#m6" x="566.3" y="115.4"/><use href="#m6" x="566.5" y="116.0"/><use href="#m6" x="567.3" y="117.4"/><use href="#m6" x="567.6" y="118.0"/><use href="#m6" x="567.9" y="118.5"/><use href="#m6" x="568.5" y="118.9"/><use href="#m6" x="569.0" y="120.5"/><use href="#m6" x="569.5" y="120.8"/><use href="#m6" x="570.0" y="121.7"/><use href="#m6" x="570.5" y="123.0"/><use href="#m6" x="570.7" y="122.7"/><use href="#m6" x="571.5" y="124.6"/><use href="#m6" x="571.7" y="125.2"/><use href="#m6" x="572.4" y="125.8"/><use href="#m6" x="572.7" y="125.4"/><use href="#m6" x="573.4" y="126.5"/><use href="#m6" x="573.7" y="127.4"/><use href="#m6" x="574.0" y="129.2"/><use href="#m6" x="574.5" y="129.1"/><use href="#m6" x="575.2" y="129.6"/><use href="#m6" x="575.6" y="131.2"/><use href="#m6" x="576.0" y="132.4"/><use href="#m6" x="576.6" y="131.7"/><use href="#m6" x="577.1" y="133.1"/><use href="#m6" x="577.8" y="134.4"/><use href="#m6" x="578.4" y="134.7"/><use href="#m6" x="578.5" y="134.7"/><use href="#m6" x="579.4" y="136.8"/><use href="#m6" x="579.8" y="136.3"/><use href="#m6" x="580.1" y="137.3"/><use href="#m6" x="580.9" y="138.1"/><use href="#m6" x="581.3" y="139.2"/><use href="#m6" x="581.7" y="139.4"/><use href="#m6" x="582.4" y="140.5"/><use href="#m6" x="582.9" y="141.4"/><use href="#m6" x="583.4" y="141.6"/><use href="#m6" x="583.9" y="142.9"/><use href="#m6" x="584.3" y="143.6"/><use href="#m6" x="584.7" y="144.2"/><use href="#m6" x="585.4" y="145.8"/><use href="#m6" x="586.0" y="145.3"/><use href="#m6" x="586.2" y="146.7"/><use href="#m6" x="586.9" y="147.6"/><use href="#m6" x="587.2" y="147.6"/><use href="#m6" x="587.6" y="148.5"/><use href="#m6" x="588.1" y="149.6"/><use href="#m6" x="588.5" y="149.9"/><use href="#m6" x="589.0" y="150.6"/><use href="#m6" x="589.8" y="151.1"/><use href="#m6" x="590.2" y="151.9"/><use href="#m6" x="590.6" y="153.9"/><use href="#m6" x="591.0" y="154.0"/><use href="#m6" x="591.7" y="154.4"/><use href="#m6" x="592.1" y="154.8"/><use href="#m6" x="592.6" y="156.4"/><use href="#m6" x="593.4" y="155.8"/><use href="#m6" x="593.9" y="157.1"/><use href="#m6" x="594.1" y="158.3"/><use href="#m6" x="594.6" y="159.7"/><use href="#m6" x="595.5" y="160.0"/><use href="#m6" x="596.0" y="160.3"/><use href="#m6" x="596.3" y="162.1"/><use href="#m6" x="597.0" y="162.2"/><use href="#m6" x="597.3" y="162.6"/><use href="#m6" x="597.9" y="164.0"/><use href="#m6" x="598.7" y="163.0"/><use href="#m6" x="599.3" y="165.3"/><use href="#m6" x="599.7" y="165.2"/><use href="#m6" x="600.2" y="166.2"/><use href="#m6" x="601.1" y="167.0"/><use href="#m6" x="601.5" y="166.7"/><use href="#m6" x="602.1" y="168.6"/><use href="#m6" x="602.7" y="169.5"/><use href="#m6" x="603.2" y="170.0"/><use href="#m6" x="603.7" y="169.2"/><use href="#m6" x="604.4" y="170.7"/><use href="#m6" x="605.2" y="171.5"/></g><g><use href="#m7" x="393.9" y="122.5"/><use href="#m7" x="395.1" y="120.3"/><use href="#m7" x="396.0" y="124.3"/><use href="#m7" x="396.7" y="119.1"/><use href="#m7" x="397.5" y="119.7"/><use href="#m7" x="398.7" y="119.7"/><use href="#m7" x="399.1" y="117.9"/><use href="#m7" x="400.0" y="120.4"/><use href="#m7" x="400.6" y="119.6"/><use href="#m7" x="401.7" y="118.4"/><use href="#m7" x="402.8" y="118.4"/><use href="#m7" x="404.2" y="116.8"/><use href="#m7" x="404.1" y="117.9"/><use href="#m7" x="404.9" y="117.1"/><use href="#m7" x="406.3" y="111.9"/><use href="#m7" x="407.3" y="116.8"/><use href="#m7" x="407.2" y="115.4"/><use href="#m7" x="408.3" y="112.8"/><use href="#m7" x="409.0" y="113.8"/><use href="#m7" x="409.8" y="112.9"/><use href="#m7" x="410.8" y="111.3"/><use href="#m7" x="411.7" y="110.0"/><use href="#m7" x="412.6" y="110.9"/><use href="#m7" x="413.2" y="109.7"/><use href="#m7" x="413.7" y="109.3"/><use href="#m7" x="414.4" y="108.5"/><use href="#m7" x="415.7" y="107.2"/><use href="#m7" x="416.1" y="108.0"/><use href="#m7" x="416.7" y="105.8"/><use href="#m7" x="417.2" y="105.6"/><use href="#m7" x="418.0" y="105.1"/><use href="#m7" x="418.4" y="105.1"/><use href="#m7" x="419.6" y="102.7"/><use href="#m7" x="420.2" y="102.4"/><use href="#m7" x="420.4" y="102.4"/><use href="#m7" x="421.3" y="100.4"/><use href="#m7" x="422.2" y="99.9"/><use href="#m7" x="422.7" y="99.7"/><use href="#m7" x="423.1" y="98.9"/><use href="#m7" x="423.8" y="97.6"/><use href="#m7" x="424.8" y="97.6"/><use href="#m7" x="425.3" y="96.7"/><use href="#m7" x="425.7" y="96.5"/><use href="#m7" x="426.5" y="94.6"/><use href="#m7" x="427.3" y="94.8"/><use href="#m7" x="427.7" y="93.5"/><use href="#m7" x="428.6" y="92.8"/><use href="#m7" x="429.0" y="92.0"/><use href="#m7" x="429.9" y="91.4"/><use href="#m7" x="430.4" y="90.7"/><use href="#m7" x="431.0" y="90.6"/><use href="#m7" x="431.7" y="89.6"/><use href="#m7" x="432.5" y="88.5"/><use href="#m7" x="433.0" y="88.1"/><use href="#m7" x="433.5" y="87.1"/><use href="#m7" x="434.2" y="86.4"/><use href="#m7" x="434.9" y="85.5"/><use href="#m7" x="435.6" y="85.2"/><use href="#m7" x="436.1" y="83.9"/><use href="#m7" x="437.0" y="82.7"/><use href="#m7" x="437.7" y="82.0"/><use href="#m7" x="438.3" y="82.3"/><use href="#m7" x="438.7" y="81.5"/><use href="#m7" x="439.3" y="80.4"/><use href="#m7" x="440.1" y="79.0"/><use href="#m7" x="440.7" y="78.1"/><use href="#m7" x="441.3" y="77.9"/><use href="#m7" x="441.9" y="76.6"/><use href="#m7" x="442.7" y="76.2"/><use href="#m7" x="443.2" y="74.8"/><use href="#m7" x="443.9" y="74.1"/><use href="#m7" x="444.4" y="73.9"/><use href="#m7" x="445.4" y="72.5"/><use href="#m7" x="446.0" y="72.1"/><use href="#m7" x="446.6" y="71.8"/><use href="#m7" x="446.9" y="71.2"/><use href="#m7" x="447.8" y="70.4"/><use href="#m7" x="448.3" y="69.2"/><use href="#m7" x="448.7" y="67.8"/><use href="#m7" x="449.4" y="68.2"/><use href="#m7" x="450.0" y="66.2"/><use href="#m7" x="450.8" y="66.5"/><use href="#m7" x="451.5" y="65.0"/><use href="#m7" x="451.9" y="64.3"/><use href="#m7" x="452.6" y="62.7"/><use href="#m7" x="453.1" y="62.7"/><use href="#m7" x="453.7" y="62.1"/><use href="#m7" x="454.5" y="61.3"/><use href="#m7" x="455.0" y="60.5"/><use href="#m7" x="455.7" y="59.4"/><use href="#m7" x="456.2" y="59.3"/><use href="#m7" x="457.1" y="58.4"/><use href="#m7" x="457.5" y="57.1"/><use href="#m7" x="458.5" y="57.0"/><use href="#m7" x="458.9" y="56.7"/><use href="#m7" x="459.8" y="56.1"/><use href="#m7" x="460.4" y="55.1"/><use href="#m7" x="461.4" y="53.5"/><use href="#m7" x="462.2" y="52.9"/><use href="#m7" x="462.8" y="53.0"/><use href="#m7" x="463.4" y="52.4"/><use href="#m7" x="464.3" y="50.9"/><use href="#m7" x="464.9" y="51.3"/><use href="#m7" x="465.7" y="50.0"/><use href="#m7" x="466.6" y="49.2"/><use href="#m7" x="467.5" y="48.4"/><use href="#m7" x="468.3" y="48.5"/><use href="#m7" x="469.0" y="47.9"/><use href="#m7" x="469.8" y="47.8"/><use href="#m7" x="470.9" y="46.9"/><use href="#m7" x="471.5" y="46.1"/><use href="#m7" x="472.4" y="45.6"/><use href="#m7" x="473.4" y="45.2"/><use href="#m7" x="474.5" y="44.6"/><use href="#m7" x="475.1" y="44.4"/><use href="#m7" x="476.3" y="43.7"/><use href="#m7" x="476.9" y="43.7"/><use href="#m7" x="478.1" y="43.7"/><use href="#m7" x="478.9" y="43.2"/><use href="#m7" x="479.8" y="42.3"/><use href="#m7" x="480.9" y="41.4"/><use href="#m7" x="481.8" y="41.9"/><use href="#m7" x="482.5" y="41.6"/><use href="#m7" x="483.4" y="41.7"/><use href="#m7" x="484.6" y="40.1"/><use href="#m7" x="485.6" y="40.5"/><use href="#m7" x="486.3" y="40.3"/><use href="#m7" x="487.3" y="39.1"/><use href="#m7" x="488.2" y="39.3"/><use href="#m7" x="489.2" y="39.2"/><use href="#m7" x="490.1" y="38.9"/><use href="#m7" x="491.0" y="39.1"/><use href="#m7" x="492.0" y="38.9"/><use href="#m7" x="492.5" y="36.4"/><use href="#m7" x="493.3" y="36.0"/><use href="#m7" x="494.1" y="35.1"/><use href="#m7" x="494.7" y="34.4"/><use href="#m7" x="495.7" y="34.0"/><use href="#m7" x="496.7" y="33.3"/><use href="#m7" x="497.6" y="33.3"/><use href="#m7" x="498.4" y="32.0"/><use href="#m7" x="499.1" y="32.3"/><use href="#m7" x="500.1" y="32.5"/><use href="#m7" x="500.9" y="32.8"/><use href="#m7" x="501.8" y="33.2"/><use href="#m7" x="502.8" y="32.6"/><use href="#m7" x="503.6" y="32.0"/><use href="#m7" x="504.8" y="33.4"/><use href="#m7" x="505.2" y="34.3"/><use href="#m7" x="505.8" y="35.1"/><use href="#m7" x="506.8" y="35.5"/><use href="#m7" x="507.5" y="36.7"/><use href="#m7" x="508.1" y="37.5"/><use href="#m7" x="508.7" y="38.2"/><use href="#m7" x="509.8" y="38.9"/><use href="#m7" x="510.7" y="38.7"/><use href="#m7" x="511.7" y="39.0"/><use href="#m7" x="512.5" y="39.5"/><use href="#m7" x="513.4" y="39.3"/><use href="#m7" x="514.5" y="41.6"/><use href="#m7" x="515.2" y="40.6"/><use href="#m7" x="516.1" y="40.5"/><use href="#m7" x="517.3" y="40.8"/><use href="#m7" x="518.2" y="41.1"/><use href="#m7" x="519.3" y="41.9"/><use href="#m7" x="520.1" y="43.0"/><use href="#m7" x="521.3" y="42.7"/><use href="#m7" x="521.9" y="42.7"/><use href="#m7" x="523.1" y="42.5"/><use href="#m7" x="524.1" y="43.4"/><use href="#m7" x="525.1" y="43.2"/><use href="#m7" x="525.6" y="43.7"/><use href="#m7" x="526.6" y="44.7"/><use href="#m7" x="527.4" y="45.5"/><use href="#m7" x="528.6" y="45.3"/><use href="#m7" x="529.2" y="44.9"/><use href="#m7" x="530.1" y="47.3"/><use href="#m7" x="531.1" y="47.6"/><use href="#m7" x="532.0" y="47.6"/><use href="#m7" x="532.7" y="48.0"/><use href="#m7" x="533.5" y="47.8"/><use href="#m7" x="534.3" y="48.6"/><use href="#m7" x="535.4" y="50.0"/><use href="#m7" x="536.1" y="50.3"/><use href="#m7" x="537.1" y="50.3"/><use href="#m7" x="537.7" y="51.2"/><use href="#m7" x="538.9" y="51.3"/><use href="#m7" x="539.4" y="52.8"/><use href="#m7" x="540.6" y="53.0"/><use href="#m7" x="541.5" y="52.1"/><use href="#m7" x="542.2" y="52.6"/><use href="#m7" x="543.0" y="54.3"/><use href="#m7" x="543.9" y="55.4"/><use href="#m7" x="544.7" y="55.5"/><use href="#m7" x="545.5" y="55.6"/><use href="#m7" x="546.0" y="56.4"/><use href="#m7" x="546.7" y="57.5"/><use href="#m7" x="547.7" y="57.2"/><use href="#m7" x="548.5" y="58.7"/><use href="#m7" x="549.4" y="59.4"/><use href="#m7" x="550.0" y="59.5"/><use href="#m7" x="551.2" y="60.0"/><use href="#m7" x="551.8" y="60.6"/><use href="#m7" x="552.7" y="61.1"/><use href="#m7" x="553.4" y="61.0"/><use href="#m7" x="554.5" y="62.6"/><use href="#m7" x="555.4" y="62.4"/><use href="#m7" x="556.2" y="62.8"/><use href="#m7" x="556.8" y="63.9"/><use href="#m7" x="557.8" y="64.7"/><use href="#m7" x="558.4" y="65.2"/><use href="#m7" x="559.1" y="65.9"/><use href="#m7" x="560.1" y="66.9"/><use href="#m7" x="560.7" y="67.5"/><use href="#m7" x="561.5" y="68.1"/><use href="#m7" x="562.2" y="67.4"/><use href="#m7" x="563.1" y="69.8"/><use href="#m7" x="563.7" y="69.6"/><use href="#m7" x="564.5" y="70.2"/><use href="#m7" x="565.1" y="71.2"/><use href="#m7" x="565.4" y="71.3"/><use href="#m7" x="566.1" y="71.7"/><use href="#m7" x="567.0" y="73.8"/><use href="#m7" x="567.5" y="74.7"/><use href="#m7" x="568.1" y="74.8"/><use href="#m7" x="568.8" y="75.6"/><use href="#m7" x="569.2" y="77.2"/><use href="#m7" x="570.1" y="77.5"/><use href="#m7" x="570.5" y="78.0"/><use href="#m7" x="571.1" y="78.5"/><use href="#m7" x="572.0" y="79.8"/><use href="#m7" x="572.6" y="80.2"/><use href="#m7" x="573.1" y="81.1"/><use href="#m7" x="573.7" y="82.2"/><use href="#m7" x="574.7" y="82.3"/><use href="#m7" x="575.0" y="83.3"/><use href="#m7" x="575.9" y="85.6"/><use href="#m7" x="576.3" y="84.3"/><use href="#m7" x="576.9" y="86.6"/><use href="#m7" x="577.7" y="87.0"/><use href="#m7" x="578.1" y="86.2"/><use href="#m7" x="579.1" y="88.1"/><use href="#m7" x="579.8" y="87.8"/><use href="#m7" x="580.3" y="89.3"/><use href="#m7" x="581.1" y="91.0"/><use href="#m7" x="581.7" y="90.5"/><use href="#m7" x="582.3" y="92.1"/><use href="#m7" x="582.8" y="92.0"/><use href="#m7" x="583.6" y="93.9"/><use href="#m7" x="584.3" y="94.5"/><use href="#m7" x="584.7" y="94.7"/><use href="#m7" x="585.5" y="96.0"/><use href="#m7" x="586.0" y="96.9"/><use href="#m7" x="586.6" y="97.7"/><use href="#m7" x="587.4" y="98.2"/><use href="#m7" x="587.9" y="99.1"/><use href="#m7" x="588.7" y="99.9"/><use href="#m7" x="589.2" y="100.6"/><use href="#m7" x="589.8" y="101.5"/><use href="#m7" x="590.2" y="102.6"/><use href="#m7" x="590.6" y="103.4"/><use href="#m7" x="591.3" y="104.1"/><use href="#m7" x="591.9" y="104.7"/><use href="#m7" x="592.1" y="106.1"/><use href="#m7" x="592.6" y="106.0"/><use href="#m7" x="593.2" y="109.0"/><use href="#m7" x="594.0" y="108.6"/><use href="#m7" x="594.2" y="108.7"/><use href="#m7" x="595.2" y="109.9"/><use href="#m7" x="595.8" y="109.9"/><use href="#m7" x="596.4" y="111.3"/><use href="#m7" x="597.0" y="112.1"/><use href="#m7" x="597.7" y="112.7"/><use href="#m7" x="598.3" y="113.0"/><use href="#m7" x="599.1" y="114.2"/><use href="#m7" x="599.6" y="115.4"/><use href="#m7" x="600.3" y="115.9"/><use href="#m7" x="600.9" y="116.3"/><use href="#m7" x="601.7" y="117.5"/><use href="#m7" x="602.4" y="118.9"/><use href="#m7" x="602.8" y="118.3"/><use href="#m7" x="603.7" y="120.3"/><use href="#m7" x="604.2" y="120.1"/><use href="#m7" x="604.8" y="121.4"/></g><g><use href="#m8" x="393.5" y="134.8"/><use href="#m8" x="393.1" y="134.1"/><use href="#m8" x="394.6" y="132.5"/><use href="#m8" x="395.4" y="133.8"/><use href="#m8" x="396.7" y="133.5"/><use href="#m8" x="397.0" y="129.3"/><use href="#m8" x="398.2" y="134.5"/><use href="#m8" x="399.5" y="128.1"/><use href="#m8" x="400.5" y="128.7"/><use href="#m8" x="400.3" y="127.3"/><use href="#m8" x="401.5" y="131.0"/><use href="#m8" x="402.2" y="125.3"/><use href="#m8" x="402.0" y="129.5"/><use href="#m8" x="402.5" y="126.3"/><use href="#m8" x="404.6" y="126.8"/><use href="#m8" x="405.3" y="125.6"/><use href="#m8" x="405.3" y="125.4"/><use href="#m8" x="405.6" y="125.4"/><use href="#m8" x="406.6" y="122.2"/><use href="#m8" x="406.8" y="126.8"/><use href="#m8" x="408.0" y="126.9"/><use href="#m8" x="409.8" y="122.0"/><use href="#m8" x="409.1" y="121.1"/><use href="#m8" x="409.9" y="120.8"/><use href="#m8" x="411.8" y="119.9"/><use href="#m8" x="411.7" y="119.6"/><use href="#m8" x="412.2" y="121.0"/><use href="#m8" x="413.1" y="121.6"/><use href="#m8" x="413.1" y="116.4"/><use href="#m8" x="413.7" y="117.8"/><use href="#m8" x="414.8" y="119.9"/><use href="#m8" x="414.9" y="115.5"/><use href="#m8" x="415.9" y="115.8"/><use href="#m8" x="416.9" y="113.1"/><use href="#m8" x="417.6" y="113.9"/><use href="#m8" x="418.0" y="111.7"/><use href="#m8" x="418.2" y="111.0"/><use href="#m8" x="418.8" y="113.2"/><use href="#m8" x="420.5" y="112.2"/><use href="#m8" x="420.4" y="110.7"/><use href="#m8" x="420.4" y="106.8"/><use href="#m8" x="421.4" y="110.9"/><use href="#m8" x="422.2" y="107.7"/><use href="#m8" x="422.5" y="105.5"/><use href="#m8" x="422.7" y="107.6"/><use href="#m8" x="423.5" y="105.5"/><use href="#m8" x="423.2" y="104.8"/><use href="#m8" x="424.2" y="104.6"/><use href="#m8" x="424.1" y="103.7"/><use href="#m8" x="424.6" y="102.9"/><use href="#m8" x="424.8" y="103.1"/><use href="#m8" x="426.0" y="102.2"/><use href="#m8" x="426.0" y="102.6"/><use href="#m8" x="426.7" y="100.0"/><use href="#m8" x="427.0" y="100.2"/><use href="#m8" x="427.9" y="98.6"/><use href="#m8" x="427.9" y="98.3"/><use href="#m8" x="428.7" y="97.2"/><use href="#m8" x="429.1" y="95.8"/><use href="#m8" x="430.0" y="94.6"/><use href="#m8" x="430.2" y="94.9"/><use href="#m8" x="430.9" y="95.1"/><use href="#m8" x="431.3" y="93.0"/><use href="#m8" x="432.1" y="93.0"/><use href="#m8" x="432.7" y="92.2"/><use href="#m8" x="433.4" y="92.3"/><use href="#m8" x="433.6" y="89.4"/><use href="#m8" x="434.3" y="90.5"/><use href="#m8" x="435.0" y="89.6"/><use href="#m8" x="435.5" y="88.4"/><use href="#m8" x="436.2" y="87.6"/><use href="#m8" x="436.5" y="87.1"/><use href="#m8" x="437.5" y="87.2"/><use href="#m8" x="438.0" y="86.1"/><use href="#m8" x="438.4" y="86.5"/><use href="#m8" x="439.2" y="84.1"/><use href="#m8" x="439.7" y="83.5"/><use href="#m8" x="440.0" y="81.3"/><use href="#m8" x="440.7" y="82.7"/><use href="#m8" x="441.0" y="81.5"/><use href="#m8" x="441.7" y="82.0"/><use href="#m8" x="442.3" y="80.7"/><use href="#m8" x="442.9" y="78.7"/><use href="#m8" x="443.3" y="79.2"/><use href="#m8" x="443.9" y="78.9"/><use href="#m8" x="444.4" y="76.4"/><use href="#m8" x="445.2" y="76.5"/><use href="#m8" x="445.8" y="77.6"/><use href="#m8" x="445.9" y="74.1"/><use href="#m8" x="446.7" y="73.8"/><use href="#m8" x="447.1" y="73.5"/><use href="#m8" x="447.5" y="74.2"/><use href="#m8" x="448.0" y="72.1"/><use href="#m8" x="448.4" y="70.9"/><use href="#m8" x="449.3" y="70.6"/><use href="#m8" x="449.6" y="69.9"/><use href="#m8" x="450.0" y="70.5"/><use href="#m8" x="450.5" y="68.2"/><use href="#m8" x="451.4" y="69.3"/><use href="#m8" x="451.7" y="66.3"/><use href="#m8" x="452.4" y="65.8"/><use href="#m8" x="452.6" y="65.1"/><use href="#m8" x="453.4" y="65.3"/><use href="#m8" x="453.6" y="64.4"/><use href="#m8" x="454.2" y="63.4"/><use href="#m8" x="454.8" y="62.3"/><use href="#m8" x="455.4" y="63.0"/><use href="#m8" x="455.7" y="61.1"/><use href="#m8" x="456.3" y="59.7"/><use href="#m8" x="456.7" y="59.7"/><use href="#m8" x="457.6" y="59.3"/><use href="#m8" x="457.7" y="58.0"/><use href="#m8" x="458.5" y="56.0"/><use href="#m8" x="459.1" y="57.4"/><use href="#m8" x="459.4" y="56.2"/><use href="#m8" x="460.1" y="55.9"/><use href="#m8" x="460.7" y="54.9"/><use href="#m8" x="461.0" y="54.4"/><use href="#m8" x="461.8" y="53.7"/><use href="#m8" x="462.3" y="53.0"/><use href="#m8" x="463.0" y="52.1"/><use href="#m8" x="463.6" y="52.0"/><use href="#m8" x="464.4" y="50.8"/><use href="#m8" x="464.9" y="51.7"/><use href="#m8" x="465.4" y="49.6"/><use href="#m8" x="466.0" y="47.1"/><use href="#m8" x="466.7" y="47.8"/><use href="#m8" x="467.6" y="46.9"/><use href="#m8" x="468.2" y="46.7"/><use href="#m8" x="469.1" y="46.1"/><use href="#m8" x="469.5" y="45.8"/><use href="#m8" x="470.4" y="44.3"/><use href="#m8" x="471.4" y="44.1"/><use href="#m8" x="472.1" y="44.2"/><use href="#m8" x="472.9" y="43.7"/><use href="#m8" x="473.2" y="44.0"/><use href="#m8" x="474.0" y="42.3"/><use href="#m8" x="474.9" y="43.3"/><use href="#m8" x="475.5" y="42.2"/><use href="#m8" x="476.6" y="42.0"/><use href="#m8" x="477.0" y="41.1"/><use href="#m8" x="477.8" y="41.1"/><use href="#m8" x="478.7" y="40.6"/><use href="#m8" x="479.2" y="39.3"/><use href="#m8" x="479.7" y="39.8"/><use href="#m8" x="480.4" y="38.2"/><use href="#m8" x="481.2" y="38.6"/><use href="#m8" x="482.1" y="37.0"/><use href="#m8" x="483.0" y="36.4"/><use href="#m8" x="483.4" y="36.8"/><use href="#m8" x="484.3" y="34.8"/><use href="#m8" x="485.1" y="35.1"/><use href="#m8" x="485.9" y="35.2"/><use href="#m8" x="486.9" y="34.6"/><use href="#m8" x="487.5" y="34.7"/><use href="#m8" x="488.3" y="33.8"/><use href="#m8" x="489.0" y="33.7"/><use href="#m8" x="490.2" y="32.5"/><use href="#m8" x="490.7" y="32.8"/><use href="#m8" x="491.6" y="31.8"/><use href="#m8" x="492.4" y="34.0"/><use href="#m8" x="492.8" y="34.8"/><use href="#m8" x="493.8" y="35.3"/><use href="#m8" x="494.4" y="36.7"/><use href="#m8" x="494.8" y="35.6"/><use href="#m8" x="495.8" y="37.9"/><use href="#m8" x="496.4" y="37.1"/><use href="#m8" x="496.9" y="39.4"/><use href="#m8" x="497.3" y="40.2"/><use href="#m8" x="498.0" y="40.4"/><use href="#m8" x="498.8" y="40.2"/><use href="#m8" x="499.8" y="39.1"/><use href="#m8" x="500.3" y="39.4"/><use href="#m8" x="501.2" y="39.0"/><use href="#m8" x="501.9" y="37.6"/><use href="#m8" x="502.7" y="38.4"/><use href="#m8" x="503.0" y="34.9"/><use href="#m8" x="503.7" y="35.9"/><use href="#m8" x="504.8" y="34.8"/><use href="#m8" x="505.4" y="34.7"/><use href="#m8" x="506.1" y="34.4"/><use href="#m8" x="507.0" y="33.6"/><use href="#m8" x="507.9" y="34.6"/><use href="#m8" x="508.3" y="34.0"/><use href="#m8" x="509.0" y="33.7"/><use href="#m8" x="510.2" y="36.7"/><use href="#m8" x="510.5" y="36.5"/><use href="#m8" x="511.7" y="36.7"/><use href="#m8" x="512.5" y="37.3"/><use href="#m8" x="513.2" y="38.6"/><use href="#m8" x="514.0" y="37.8"/><use href="#m8" x="514.6" y="39.0"/><use href="#m8" x="515.5" y="39.4"/><use href="#m8" x="516.1" y="39.3"/><use href="#m8" x="516.9" y="40.9"/><use href="#m8" x="517.8" y="40.5"/><use href="#m8" x="518.3" y="40.8"/><use href="#m8" x="518.9" y="41.6"/><use href="#m8" x="519.8" y="42.2"/><use href="#m8" x="520.3" y="43.6"/><use href="#m8" x="521.3" y="43.6"/><use href="#m8" x="521.9" y="44.1"/><use href="#m8" x="522.6" y="45.3"/><use href="#m8" x="523.1" y="44.7"/><use href="#m8" x="523.9" y="46.0"/><use href="#m8" x="524.4" y="47.0"/><use href="#m8" x="525.2" y="47.4"/><use href="#m8" x="526.0" y="47.5"/><use href="#m8" x="526.5" y="48.0"/><use href="#m8" x="527.0" y="49.8"/><use href="#m8" x="527.6" y="50.3"/><use href="#m8" x="528.6" y="50.4"/><use href="#m8" x="529.0" y="51.1"/><use href="#m8" x="529.9" y="51.9"/><use href="#m8" x="530.5" y="52.6"/><use href="#m8" x="531.2" y="53.0"/><use href="#m8" x="531.9" y="54.1"/><use href="#m8" x="532.7" y="53.9"/><use href="#m8" x="533.9" y="54.0"/><use href="#m8" x="534.6" y="54.4"/><use href="#m8" x="535.0" y="55.1"/><use href="#m8" x="536.1" y="54.8"/><use href="#m8" x="536.4" y="55.8"/><use href="#m8" x="537.3" y="57.0"/><use href="#m8" x="538.2" y="56.0"/><use href="#m8" x="539.0" y="57.9"/><use href="#m8" x="539.7" y="57.2"/><use href="#m8" x="540.5" y="58.4"/><use href="#m8" x="541.3" y="59.3"/><use href="#m8" x="541.7" y="59.7"/><use href="#m8" x="542.4" y="60.6"/><use href="#m8" x="542.9" y="61.2"/><use href="#m8" x="543.5" y="61.2"/><use href="#m8" x="544.3" y="62.3"/><use href="#m8" x="544.7" y="61.6"/><use href="#m8" x="545.6" y="64.1"/><use href="#m8" x="546.3" y="65.4"/><use href="#m8" x="546.5" y="64.8"/><use href="#m8" x="547.2" y="65.6"/><use href="#m8" x="547.7" y="66.0"/><use href="#m8" x="548.4" y="66.5"/><use href="#m8" x="549.1" y="68.4"/><use href="#m8" x="549.3" y="67.4"/><use href="#m8" x="550.0" y="69.3"/><use href="#m8" x="550.3" y="70.2"/><use href="#m8" x="551.0" y="69.4"/><use href="#m8" x="551.2" y="70.4"/><use href="#m8" x="551.9" y="71.9"/><use href="#m8" x="552.6" y="73.3"/><use href="#m8" x="552.7" y="72.7"/><use href="#m8" x="553.3" y="73.9"/><use href="#m8" x="553.6" y="74.0"/><use href="#m8" x="554.1" y="75.4"/><use href="#m8" x="555.0" y="77.8"/><use href="#m8" x="555.3" y="77.9"/><use href="#m8" x="555.8" y="77.2"/><use href="#m8" x="556.3" y="77.5"/><use href="#m8" x="556.7" y="79.6"/><use href="#m8" x="557.7" y="79.4"/><use href="#m8" x="558.0" y="81.9"/><use href="#m8" x="558.6" y="80.5"/><use href="#m8" x="559.2" y="81.8"/><use href="#m8" x="559.7" y="83.4"/><use href="#m8" x="560.4" y="83.7"/><use href="#m8" x="560.8" y="84.7"/><use href="#m8" x="561.4" y="85.8"/><use href="#m8" x="562.2" y="85.7"/><use href="#m8" x="562.8" y="86.1"/><use href="#m8" x="563.2" y="87.0"/><use href="#m8" x="564.1" y="87.2"/><use href="#m8" x="564.3" y="88.4"/><use href="#m8" x="565.2" y="89.1"/><use href="#m8" x="565.7" y="89.6"/><use href="#m8" x="566.2" y="91.3"/><use href="#m8" x="567.0" y="91.0"/><use href="#m8" x="567.2" y="92.4"/><use href="#m8" x="568.1" y="92.0"/><use href="#m8" x="568.6" y="92.8"/><use href="#m8" x="569.0" y="93.4"/><use href="#m8" x="569.5" y="93.9"/><use href="#m8" x="570.4" y="95.3"/><use href="#m8" x="570.8" y="97.0"/><use href="#m8" x="571.3" y="95.6"/><use href="#m8" x="572.0" y="97.1"/><use href="#m8" x="572.4" y="99.8"/><use href="#m8" x="572.9" y="98.8"/><use href="#m8" x="573.7" y="99.0"/><use href="#m8" x="574.4" y="99.9"/><use href="#m8" x="574.7" y="101.3"/><use href="#m8" x="575.5" y="101.4"/><use href="#m8" x="576.0" y="102.8"/><use href="#m8" x="576.6" y="103.3"/><use href="#m8" x="576.9" y="104.3"/><use href="#m8" x="577.5" y="103.8"/><use href="#m8" x="577.9" y="105.4"/><use href="#m8" x="578.6" y="106.0"/><use href="#m8" x="579.0" y="107.7"/><use href="#m8" x="579.5" y="107.9"/><use href="#m8" x="580.1" y="107.8"/><use href="#m8" x="580.2" y="109.0"/><use href="#m8" x="581.0" y="109.4"/><use href="#m8" x="581.1" y="110.8"/><use href="#m8" x="581.7" y="111.9"/><use href="#m8" x="582.1" y="112.3"/><use href="#m8" x="582.2" y="113.3"/><use href="#m8" x="583.0" y="114.4"/><use href="#m8" x="583.5" y="114.2"/><use href="#m8" x="583.8" y="114.4"/><use href="#m8" x="583.9" y="116.7"/><use href="#m8" x="584.8" y="117.9"/><use href="#m8" x="584.9" y="117.4"/><use href="#m8" x="585.5" y="118.2"/><use href="#m8" x="585.7" y="120.2"/><use href="#m8" x="586.5" y="119.8"/><use href="#m8" x="586.8" y="121.0"/><use href="#m8" x="587.4" y="122.6"/><use href="#m8" x="588.0" y="122.9"/><use href="#m8" x="588.3" y="123.9"/><use href="#m8" x="589.0" y="124.8"/><use href="#m8" x="589.5" y="125.0"/><use href="#m8" x="590.2" y="124.7"/><use href="#m8" x="590.4" y="125.3"/><use href="#m8" x="591.1" y="127.4"/><use href="#m8" x="591.9" y="127.1"/><use href="#m8" x="592.3" y="128.8"/><use href="#m8" x="592.7" y="129.3"/><use href="#m8" x="593.3" y="129.7"/><use href="#m8" x="594.0" y="130.3"/><use href="#m8" x="594.3" y="131.4"/><use href="#m8" x="595.2" y="132.1"/><use href="#m8" x="595.7" y="132.5"/><use href="#m8" x="596.0" y="132.8"/><use href="#m8" x="596.7" y="133.9"/><use href="#m8" x="597.3" y="135.0"/><use href="#m8" x="597.7" y="135.3"/><use href="#m8" x="598.5" y="136.2"/><use href="#m8" x="599.0" y="136.7"/><use href="#m8" x="599.6" y="137.9"/><use href="#m8" x="600.2" y="138.5"/><use href="#m8" x="601.0" y="140.0"/><use href="#m8" x="601.3" y="139.1"/><use href="#m8" x="602.1" y="140.2"/><use href="#m8" x="602.5" y="140.8"/><use href="#m8" x="603.1" y="141.4"/><use href="#m8" x="603.5" y="141.7"/><use href="#m8" x="604.0" y="142.8"/></g><g><use href="#m9" x="394.1" y="171.3"/><use href="#m9" x="393.9" y="173.2"/><use href="#m9" x="393.8" y="174.5"/><use href="#m9" x="393.9" y="176.0"/><use href="#m9" x="395.3" y="179.4"/><use href="#m9" x="395.5" y="176.5"/><use href="#m9" x="395.7" y="178.2"/><use href="#m9" x="395.0" y="179.1"/><use href="#m9" x="395.5" y="183.3"/><use href="#m9" x="396.6" y="180.3"/><use href="#m9" x="397.1" y="180.2"/><use href="#m9" x="397.7" y="182.8"/><use href="#m9" x="398.0" y="187.3"/><use href="#m9" x="399.0" y="184.6"/><use href="#m9" x="400.2" y="181.9"/><use href="#m9" x="400.8" y="186.5"/><use href="#m9" x="401.7" y="182.1"/><use href="#m9" x="402.1" y="182.8"/><use href="#m9" x="403.0" y="181.0"/><use href="#m9" x="403.6" y="182.1"/><use href="#m9" x="405.0" y="182.1"/><use href="#m9" x="405.4" y="180.9"/><use href="#m9" x="406.0" y="178.9"/><use href="#m9" x="407.3" y="181.5"/><use href="#m9" x="408.0" y="177.2"/><use href="#m9" x="407.9" y="178.2"/><use href="#m9" x="409.0" y="178.5"/><use href="#m9" x="409.8" y="177.0"/><use href="#m9" x="410.5" y="176.2"/><use href="#m9" x="411.3" y="178.3"/><use href="#m9" x="412.2" y="176.9"/><use href="#m9" x="412.4" y="175.2"/><use href="#m9" x="413.0" y="173.6"/><use href="#m9" x="414.1" y="174.7"/><use href="#m9" x="415.0" y="172.7"/><use href="#m9" x="415.4" y="172.1"/><use href="#m9" x="416.1" y="173.0"/><use href="#m9" x="416.5" y="170.4"/><use href="#m9" x="417.3" y="170.8"/><use href="#m9" x="417.6" y="169.7"/><use href="#m9" x="418.3" y="169.4"/><use href="#m9" x="418.8" y="169.0"/><use href="#m9" x="419.6" y="168.3"/><use href="#m9" x="420.1" y="167.9"/><use href="#m9" x="420.6" y="166.8"/><use href="#m9" x="420.9" y="166.4"/><use href="#m9" x="421.7" y="165.2"/><use href="#m9" x="422.2" y="164.6"/><use href="#m9" x="422.5" y="164.9"/><use href="#m9" x="423.3" y="163.2"/><use href="#m9" x="423.9" y="162.2"/><use href="#m9" x="424.2" y="161.5"/><use href="#m9" x="424.7" y="161.7"/><use href="#m9" x="425.1" y="160.7"/><use href="#m9" x="425.8" y="159.3"/><use href="#m9" x="426.5" y="158.5"/><use href="#m9" x="426.8" y="158.2"/><use href="#m9" x="427.3" y="157.0"/><use href="#m9" x="427.8" y="157.2"/><use href="#m9" x="428.1" y="155.2"/><use href="#m9" x="428.7" y="154.4"/><use href="#m9" x="428.9" y="154.2"/><use href="#m9" x="429.6" y="154.4"/><use href="#m9" x="430.1" y="152.3"/><use href="#m9" x="430.2" y="152.2"/><use href="#m9" x="430.9" y="150.2"/><use href="#m9" x="431.4" y="150.4"/><use href="#m9" x="431.6" y="149.7"/><use href="#m9" x="432.3" y="148.4"/><use href="#m9" x="432.5" y="147.7"/><use href="#m9" x="432.9" y="147.1"/><use href="#m9" x="433.0" y="146.3"/><use href="#m9" x="433.5" y="144.5"/><use href="#m9" x="433.7" y="144.5"/><use href="#m9" x="434.1" y="144.2"/><use href="#m9" x="434.4" y="142.6"/><use href="#m9" x="435.1" y="142.7"/><use href="#m9" x="435.2" y="141.4"/><use href="#m9" x="435.6" y="140.7"/><use href="#m9" x="436.2" y="139.2"/><use href="#m9" x="436.3" y="138.6"/><use href="#m9" x="436.7" y="137.7"/><use href="#m9" x="437.1" y="137.2"/><use href="#m9" x="437.4" y="135.8"/><use href="#m9" x="437.7" y="134.5"/><use href="#m9" x="438.3" y="134.9"/><use href="#m9" x="438.6" y="132.8"/><use href="#m9" x="439.0" y="133.0"/><use href="#m9" x="439.0" y="131.9"/><use href="#m9" x="439.7" y="131.3"/><use href="#m9" x="439.9" y="130.4"/><use href="#m9" x="440.3" y="130.1"/><use href="#m9" x="440.5" y="129.1"/><use href="#m9" x="441.0" y="127.2"/><use href="#m9" x="441.5" y="128.0"/><use href="#m9" x="441.6" y="126.5"/><use href="#m9" x="442.0" y="125.2"/><use href="#m9" x="442.5" y="124.5"/><use href="#m9" x="442.7" y="123.1"/><use href="#m9" x="443.1" y="122.6"/><use href="#m9" x="443.4" y="122.4"/><use href="#m9" x="444.0" y="121.5"/><use href="#m9" x="444.2" y="121.2"/><use href="#m9" x="444.7" y="119.3"/><use href="#m9" x="444.8" y="118.4"/><use href="#m9" x="445.4" y="117.6"/><use href="#m9" x="445.8" y="116.1"/><use href="#m9" x="446.1" y="116.3"/><use href="#m9" x="446.5" y="115.3"/><use href="#m9" x="446.5" y="114.6"/><use href="#m9" x="447.2" y="114.4"/><use href="#m9" x="447.3" y="112.4"/><use href="#m9" x="448.0" y="111.9"/><use href="#m9" x="448.3" y="111.4"/><use href="#m9" x="448.6" y="109.7"/><use href="#m9" x="449.3" y="109.0"/><use href="#m9" x="449.7" y="108.5"/><use href="#m9" x="450.1" y="107.8"/><use href="#m9" x="450.4" y="108.0"/><use href="#m9" x="451.0" y="106.0"/><use href="#m9" x="451.3" y="105.7"/><use href="#m9" x="451.8" y="105.5"/><use href="#m9" x="452.1" y="104.6"/><use href="#m9" x="452.4" y="103.8"/><use href="#m9" x="452.9" y="103.4"/><use href="#m9" x="453.6" y="102.8"/><use href="#m9" x="453.8" y="101.1"/><use href="#m9" x="454.4" y="100.8"/><use href="#m9" x="454.6" y="100.1"/><use href="#m9" x="455.4" y="98.5"/><use href="#m9" x="455.9" y="97.7"/><use href="#m9" x="456.0" y="98.1"/><use href="#m9" x="456.9" y="96.9"/><use href="#m9" x="457.1" y="95.3"/><use href="#m9" x="457.5" y="95.0"/><use href="#m9" x="458.0" y="94.4"/><use href="#m9" x="458.5" y="93.4"/><use href="#m9" x="458.8" y="92.3"/><use href="#m9" x="459.6" y="92.3"/><use href="#m9" x="460.1" y="90.1"/><use href="#m9" x="460.4" y="91.3"/><use href="#m9" x="461.0" y="89.8"/><use href="#m9" x="461.3" y="89.4"/><use href="#m9" x="461.7" y="88.0"/><use href="#m9" x="462.3" y="87.0"/><use href="#m9" x="462.6" y="85.8"/><use href="#m9" x="463.2" y="86.1"/><use href="#m9" x="463.7" y="85.3"/><use href="#m9" x="464.0" y="84.0"/><use href="#m9" x="464.3" y="82.4"/><use href="#m9" x="464.9" y="82.1"/><use href="#m9" x="465.2" y="82.0"/><use href="#m9" x="466.0" y="80.1"/><use href="#m9" x="466.4" y="80.4"/><use href="#m9" x="466.7" y="78.9"/><use href="#m9" x="467.0" y="78.6"/><use href="#m9" x="467.5" y="77.4"/><use href="#m9" x="467.9" y="77.4"/><use href="#m9" x="468.5" y="77.4"/><use href="#m9" x="468.7" y="75.7"/><use href="#m9" x="469.1" y="75.4"/><use href="#m9" x="469.7" y="73.8"/><use href="#m9" x="469.9" y="72.7"/><use href="#m9" x="470.2" y="72.9"/><use href="#m9" x="470.9" y="71.6"/><use href="#m9" x="471.3" y="71.0"/><use href="#m9" x="471.5" y="69.8"/><use href="#m9" x="471.9" y="70.1"/><use href="#m9" x="472.3" y="68.4"/><use href="#m9" x="472.9" y="67.8"/><use href="#m9" x="473.3" y="65.8"/><use href="#m9" x="473.6" y="65.3"/><use href="#m9" x="474.2" y="64.9"/><use href="#m9" x="474.3" y="63.0"/><use href="#m9" x="474.7" y="63.4"/><use href="#m9" x="475.4" y="62.4"/><use href="#m9" x="475.5" y="61.6"/><use href="#m9" x="476.0" y="61.3"/><use href="#m9" x="476.6" y="60.0"/><use href="#m9" x="477.1" y="59.9"/><use href="#m9" x="477.2" y="59.3"/><use href="#m9" x="477.7" y="58.2"/><use href="#m9" x="478.4" y="57.6"/><use href="#m9" x="479.1" y="56.0"/><use href="#m9" x="479.7" y="55.4"/><use href="#m9" x="480.1" y="55.1"/><use href="#m9" x="480.6" y="54.9"/><use href="#m9" x="481.3" y="53.1"/><use href="#m9" x="481.5" y="52.4"/><use href="#m9" x="482.2" y="52.7"/><use href="#m9" x="482.9" y="51.2"/><use href="#m9" x="483.3" y="50.0"/><use href="#m9" x="483.9" y="50.3"/><use href="#m9" x="484.4" y="49.7"/><use href="#m9" x="485.1" y="48.0"/><use href="#m9" x="485.3" y="48.0"/><use href="#m9" x="486.0" y="47.0"/><use href="#m9" x="486.4" y="46.3"/><use href="#m9" x="487.0" y="45.4"/><use href="#m9" x="487.5" y="44.4"/><use href="#m9" x="488.3" y="44.2"/><use href="#m9" x="489.0" y="43.2"/><use href="#m9" x="489.6" y="43.6"/><use href="#m9" x="490.4" y="42.7"/><use href="#m9" x="491.0" y="42.0"/><use href="#m9" x="491.9" y="42.0"/><use href="#m9" x="492.6" y="40.9"/><use href="#m9" x="493.4" y="40.2"/><use href="#m9" x="494.4" y="40.6"/><use href="#m9" x="495.2" y="40.4"/><use href="#m9" x="495.6" y="42.2"/><use href="#m9" x="496.1" y="42.9"/><use href="#m9" x="496.7" y="42.7"/><use href="#m9" x="497.0" y="44.3"/><use href="#m9" x="497.7" y="45.4"/><use href="#m9" x="498.3" y="45.2"/><use href="#m9" x="499.4" y="45.0"/><use href="#m9" x="499.8" y="44.6"/><use href="#m9" x="500.6" y="43.2"/><use href="#m9" x="501.2" y="41.6"/><use href="#m9" x="501.8" y="42.4"/><use href="#m9" x="502.3" y="41.9"/><use href="#m9" x="502.9" y="42.5"/><use href="#m9" x="503.3" y="40.6"/><use href="#m9" x="504.0" y="39.4"/><use href="#m9" x="504.4" y="38.6"/><use href="#m9" x="505.1" y="38.4"/><use href="#m9" x="505.5" y="35.7"/><use href="#m9" x="505.8" y="37.0"/><use href="#m9" x="506.5" y="36.0"/><use href="#m9" x="506.9" y="35.0"/><use href="#m9" x="507.6" y="34.7"/><use href="#m9" x="508.1" y="33.0"/><use href="#m9" x="508.5" y="33.2"/><use href="#m9" x="509.1" y="32.4"/><use href="#m9" x="510.2" y="32.0"/><use href="#m9" x="510.8" y="32.5"/><use href="#m9" x="511.6" y="32.5"/><use href="#m9" x="512.6" y="35.4"/><use href="#m9" x="513.3" y="33.4"/><use href="#m9" x="513.9" y="34.3"/><use href="#m9" x="514.8" y="34.4"/><use href="#m9" x="515.6" y="37.5"/><use href="#m9" x="516.3" y="36.3"/><use href="#m9" x="517.2" y="37.5"/><use href="#m9" x="517.9" y="37.6"/><use href="#m9" x="518.9" y="36.3"/><use href="#m9" x="519.7" y="37.4"/><use href="#m9" x="520.3" y="37.4"/><use href="#m9" x="521.1" y="38.4"/><use href="#m9" x="521.9" y="39.5"/><use href="#m9" x="522.7" y="37.7"/><use href="#m9" x="523.7" y="40.3"/><use href="#m9" x="524.5" y="39.5"/><use href="#m9" x="525.3" y="40.6"/><use href="#m9" x="525.8" y="40.4"/><use href="#m9" x="526.9" y="42.0"/><use href="#m9" x="527.5" y="42.4"/><use href="#m9" x="528.4" y="43.0"/><use href="#m9" x="528.9" y="43.6"/><use href="#m9" x="529.7" y="43.1"/><use href="#m9" x="530.5" y="43.8"/><use href="#m9" x="531.4" y="44.1"/><use href="#m9" x="532.1" y="44.4"/><use href="#m9" x="532.9" y="45.3"/><use href="#m9" x="533.8" y="45.4"/><use href="#m9" x="534.5" y="45.9"/><use href="#m9" x="535.3" y="46.3"/><use href="#m9" x="536.0" y="46.6"/><use href="#m9" x="536.6" y="47.3"/><use href="#m9" x="537.6" y="47.6"/><use href="#m9" x="538.3" y="48.5"/><use href="#m9" x="539.1" y="49.8"/><use href="#m9" x="539.8" y="49.1"/><use href="#m9" x="540.8" y="50.1"/><use href="#m9" x="541.2" y="50.0"/><use href="#m9" x="541.9" y="50.6"/><use href="#m9" x="542.8" y="51.6"/><use href="#m9" x="543.4" y="52.4"/><use href="#m9" x="543.9" y="52.3"/><use href="#m9" x="544.7" y="53.0"/><use href="#m9" x="545.5" y="54.7"/><use href="#m9" x="546.0" y="54.6"/><use href="#m9" x="546.6" y="54.8"/><use href="#m9" x="547.3" y="56.1"/><use href="#m9" x="547.9" y="57.0"/><use href="#m9" x="548.7" y="57.9"/><use href="#m9" x="549.2" y="57.2"/><use href="#m9" x="549.9" y="58.3"/><use href="#m9" x="550.5" y="59.7"/><use href="#m9" x="551.1" y="59.6"/><use href="#m9" x="551.8" y="59.5"/><use href="#m9" x="552.5" y="62.0"/><use href="#m9" x="553.1" y="60.7"/><use href="#m9" x="553.7" y="62.5"/><use href="#m9" x="554.3" y="62.5"/><use href="#m9" x="555.2" y="64.1"/><use href="#m9" x="555.8" y="64.0"/><use href="#m9" x="556.2" y="64.9"/><use href="#m9" x="557.2" y="65.0"/><use href="#m9" x="557.7" y="65.8"/><use href="#m9" x="557.9" y="67.6"/><use href="#m9" x="558.5" y="68.4"/><use href="#m9" x="559.1" y="68.3"/><use href="#m9" x="559.4" y="69.3"/><use href="#m9" x="559.8" y="69.7"/><use href="#m9" x="560.1" y="70.4"/><use href="#m9" x="560.5" y="71.6"/><use href="#m9" x="560.8" y="72.5"/><use href="#m9" x="561.6" y="73.5"/><use href="#m9" x="562.0" y="74.2"/><use href="#m9" x="562.1" y="74.6"/><use href="#m9" x="562.5" y="75.5"/><use href="#m9" x="563.4" y="76.2"/><use href="#m9" x="563.6" y="76.8"/><use href="#m9" x="564.4" y="77.4"/><use href="#m9" x="564.7" y="78.4"/><use href="#m9" x="565.4" y="78.2"/><use href="#m9" x="565.8" y="79.8"/><use href="#m9" x="566.5" y="80.6"/><use href="#m9" x="567.0" y="81.6"/><use href="#m9" x="567.5" y="82.0"/><use href="#m9" x="567.7" y="82.7"/><use href="#m9" x="568.3" y="83.1"/><use href="#m9" x="569.0" y="83.7"/><use href="#m9" x="569.5" y="85.1"/><use href="#m9" x="569.9" y="86.0"/><use href="#m9" x="570.6" y="86.2"/><use href="#m9" x="571.1" y="87.1"/><use href="#m9" x="571.8" y="88.2"/><use href="#m9" x="572.5" y="88.1"/><use href="#m9" x="572.8" y="89.0"/><use href="#m9" x="573.4" y="89.3"/><use href="#m9" x="574.2" y="90.5"/><use href="#m9" x="574.7" y="90.6"/><use href="#m9" x="575.2" y="92.6"/><use href="#m9" x="576.0" y="93.5"/><use href="#m9" x="576.3" y="93.9"/><use href="#m9" x="577.0" y="93.6"/><use href="#m9" x="577.4" y="95.6"/><use href="#m9" x="577.9" y="95.2"/><use href="#m9" x="578.6" y="96.6"/><use href="#m9" x="578.9" y="98.1"/><use href="#m9" x="579.4" y="97.8"/><use href="#m9" x="580.0" y="98.9"/><use href="#m9" x="580.5" y="99.1"/><use href="#m9" x="581.0" y="100.4"/><use href="#m9" x="581.6" y="101.3"/><use href="#m9" x="582.1" y="101.9"/><use href="#m9" x="582.5" y="102.3"/><use href="#m9" x="583.0" y="102.4"/><use href="#m9" x="583.6" y="104.5"/><use href="#m9" x="583.9" y="105.5"/><use href="#m9" x="584.5" y="105.1"/><use href="#m9" x="584.9" y="105.6"/><use href="#m9" x="585.3" y="107.2"/><use href="#m9" x="585.8" y="106.9"/><use href="#m9" x="586.2" y="108.5"/><use href="#m9" x="586.8" y="109.1"/><use href="#m9" x="587.1" y="109.4"/><use href="#m9" x="587.6" y="111.9"/><use href="#m9" x="587.7" y="111.3"/><use href="#m9" x="588.1" y="112.6"/><use href="#m9" x="588.7" y="113.3"/><use href="#m9" x="589.2" y="114.4"/><use href="#m9" x="589.6" y="114.2"/><use href="#m9" x="589.9" y="115.1"/><use href="#m9" x="590.4" y="116.9"/><use href="#m9" x="590.6" y="116.3"/><use href="#m9" x="591.2" y="118.1"/><use href="#m9" x="591.3" y="118.1"/><use href="#m9" x="591.7" y="120.2"/><use href="#m9" x="592.5" y="120.5"/><use href="#m9" x="592.9" y="121.6"/><use href="#m9" x="593.1" y="122.3"/><use href="#m9" x="593.5" y="123.0"/><use href="#m9" x="594.3" y="124.2"/><use href="#m9" x="594.6" y="123.1"/><use href="#m9" x="595.1" y="125.3"/><use href="#m9" x="595.8" y="126.1"/><use href="#m9" x="596.2" y="126.2"/><use href="#m9" x="597.0" y="128.3"/><use href="#m9" x="597.7" y="127.5"/><use href="#m9" x="598.2" y="128.6"/><use href="#m9" x="598.5" y="129.1"/><use href="#m9" x="599.2" y="129.1"/><use href="#m9" x="599.7" y="130.6"/><use href="#m9" x="600.3" y="131.0"/><use href="#m9" x="600.8" y="131.0"/><use href="#m9" x="601.6" y="132.0"/><use href="#m9" x="602.0" y="132.8"/><use href="#m9" x="602.5" y="133.4"/><use href="#m9" x="602.9" y="135.2"/><use href="#m9" x="603.7" y="136.1"/><use href="#m9" x="604.1" y="135.8"/><use href="#m9" x="604.5" y="136.5"/><use href="#m9" x="605.3" y="136.9"/></g><path d="M393.6 143.9L395.1 141.28L392.1 141.28Z" fill="none" stroke="#22ff22" stroke-width="0.8"/><rect x="457.9" y="157.4" width="3.2" height="3.2" fill="none" stroke="#ff2020" stroke-width="1.05"/><text x="473.8" y="163.1" font-family="Liberation Sans, sans-serif" font-weight="bold" font-size="10.3" fill="#000" textLength="18.39" lengthAdjust="spacingAndGlyphs">10%</text><path d="M459.5 169.5L460.21 171.22L462.07 171.37L460.66 172.58L461.09 174.38L459.5 173.41L457.91 174.38L458.34 172.58L456.93 171.37L458.79 171.22Z" fill="#14148c" stroke="#14148c" stroke-width="1.05"/><text x="474.03" y="176.3" font-family="Liberation Sans, sans-serif" font-weight="bold" font-size="10.3" fill="#000" textLength="18.16" lengthAdjust="spacingAndGlyphs">20%</text><path d="M459.5 183.1L461.8 187.12L457.2 187.12Z" fill="none" stroke="#ff1aa0" stroke-width="1.05"/><text x="474.12" y="189.5" font-family="Liberation Sans, sans-serif" font-weight="bold" font-size="10.3" fill="#000" textLength="18.06" lengthAdjust="spacingAndGlyphs">30%</text><path d="M459.5 200.9L461.8 196.88L457.2 196.88Z" fill="none" stroke="#22ff22" stroke-width="1.05"/><text x="474.22" y="202.7" font-family="Liberation Sans, sans-serif" font-weight="bold" font-size="10.3" fill="#000" textLength="17.97" lengthAdjust="spacingAndGlyphs">40%</text><path d="M459.5 209.5L461.8 211.8L459.5 214.1L457.2 211.8Z" fill="none" stroke="#111" stroke-width="1.05"/><text x="474.08" y="215.9" font-family="Liberation Sans, sans-serif" font-weight="bold" font-size="10.3" fill="#000" textLength="18.11" lengthAdjust="spacingAndGlyphs">50%</text><path d="M76.7 522.3L76.7 518.3M76.7 320.3L76.7 322.3M124.5 522.3L124.5 518.3M124.5 320.3L124.5 322.3M172.3 522.3L172.3 518.3M172.3 320.3L172.3 322.3M220.1 522.3L220.1 518.3M220.1 320.3L220.1 322.3M267.9 522.3L267.9 518.3M267.9 320.3L267.9 322.3M100.6 522.3L100.6 520.3M100.6 320.3L100.6 324.3M148.4 522.3L148.4 520.3M148.4 320.3L148.4 324.3M196.2 522.3L196.2 520.3M196.2 320.3L196.2 324.3M244 522.3L244 520.3M244 320.3L244 324.3M52.8 508.78L56.8 508.78M52.8 481.84L56.8 481.84M52.8 454.9L56.8 454.9M52.8 427.96L56.8 427.96M52.8 401.02L56.8 401.02M52.8 374.08L56.8 374.08M52.8 347.14L56.8 347.14M52.8 320.2L56.8 320.2M52.8 495.31L54.8 495.31M52.8 468.37L54.8 468.37M52.8 441.43L54.8 441.43M52.8 414.49L54.8 414.49M52.8 387.55L54.8 387.55M52.8 360.61L54.8 360.61M52.8 333.67L54.8 333.67M292.2 340.6L290.2 340.6M292.2 360.6L288.2 360.6M292.2 380.6L290.2 380.6M292.2 400.6L288.2 400.6M292.2 420.6L290.2 420.6M292.2 440.6L288.2 440.6M292.2 460.6L290.2 460.6M292.2 480.6L288.2 480.6M292.2 500.6L290.2 500.6" stroke="#1a1a1a" stroke-width="1.1" fill="none"/><rect x="52.8" y="320.3" width="239.4" height="202" fill="none" stroke="#1a1a1a" stroke-width="1.3"/><text x="70.71" y="534.7" font-family="Liberation Sans, sans-serif" font-weight="bold" font-size="10.9" fill="#000" textLength="11.78" lengthAdjust="spacingAndGlyphs">10</text><text x="118.65" y="534.7" font-family="Liberation Sans, sans-serif" font-weight="bold" font-size="10.9" fill="#000" textLength="11.78" lengthAdjust="spacingAndGlyphs">20</text><text x="166.5" y="534.7" font-family="Liberation Sans, sans-serif" font-weight="bold" font-size="10.9" fill="#000" textLength="11.78" lengthAdjust="spacingAndGlyphs">30</text><text x="214.35" y="534.7" font-family="Liberation Sans, sans-serif" font-weight="bold" font-size="10.9" fill="#000" textLength="11.78" lengthAdjust="spacingAndGlyphs">40</text><text x="262.07" y="534.7" font-family="Liberation Sans, sans-serif" font-weight="bold" font-size="10.9" fill="#000" textLength="11.78" lengthAdjust="spacingAndGlyphs">50</text><text x="31.6" y="511.98" font-family="Liberation Sans, sans-serif" font-weight="bold" font-size="9.3" fill="#000" textLength="16.74" lengthAdjust="spacingAndGlyphs">480</text><text x="31.6" y="485.04" font-family="Liberation Sans, sans-serif" font-weight="bold" font-size="9.3" fill="#000" textLength="16.74" lengthAdjust="spacingAndGlyphs">500</text><text x="31.6" y="458.1" font-family="Liberation Sans, sans-serif" font-weight="bold" font-size="9.3" fill="#000" textLength="16.74" lengthAdjust="spacingAndGlyphs">520</text><text x="31.6" y="431.16" font-family="Liberation Sans, sans-serif" font-weight="bold" font-size="9.3" fill="#000" textLength="16.74" lengthAdjust="spacingAndGlyphs">540</text><text x="31.6" y="404.22" font-family="Liberation Sans, sans-serif" font-weight="bold" font-size="9.3" fill="#000" textLength="16.74" lengthAdjust="spacingAndGlyphs">560</text><text x="31.6" y="377.28" font-family="Liberation Sans, sans-serif" font-weight="bold" font-size="9.3" fill="#000" textLength="16.74" lengthAdjust="spacingAndGlyphs">580</text><text x="31.6" y="350.34" font-family="Liberation Sans, sans-serif" font-weight="bold" font-size="9.3" fill="#000" textLength="16.74" lengthAdjust="spacingAndGlyphs">600</text><text x="31.6" y="323.4" font-family="Liberation Sans, sans-serif" font-weight="bold" font-size="9.3" fill="#000" textLength="16.74" lengthAdjust="spacingAndGlyphs">620</text><text x="98.52" y="553.9" font-family="Liberation Sans, sans-serif" font-weight="bold" font-size="11.6" fill="#000" textLength="148.55" lengthAdjust="spacingAndGlyphs">Concentration of ethanol (% )</text><text transform="translate(27.6 499.1) rotate(-90)" x="0" y="0" font-family="Liberation Sans, sans-serif" font-weight="bold" font-size="11.6" fill="#000" textLength="156.31" lengthAdjust="spacingAndGlyphs">Resonance wavelength (nm)</text><text x="139.07" y="580.8" font-family="Liberation Sans, sans-serif" font-weight="bold" font-size="13.8" fill="#000" textLength="16.51" lengthAdjust="spacingAndGlyphs">(c)</text><path d="M76.7 489.5L76.7 498.5M74.2 489.5L79.2 489.5M74.2 498.5L79.2 498.5" stroke="#ff2020" stroke-width="1.1"/><circle cx="76.7" cy="494.2" r="2.5" fill="url(#ball)"/><path d="M124.5 419.2L124.5 427.4M122 419.2L127 419.2M122 427.4L127 427.4" stroke="#ff2020" stroke-width="1.1"/><circle cx="124.5" cy="423.2" r="2.5" fill="url(#ball)"/><path d="M172.3 373.5L172.3 380.7M169.8 373.5L174.8 373.5M169.8 380.7L174.8 380.7" stroke="#ff2020" stroke-width="1.1"/><circle cx="172.3" cy="377.1" r="2.5" fill="url(#ball)"/><path d="M220.1 358.8L220.1 366.9M217.6 358.8L222.6 358.8M217.6 366.9L222.6 366.9" stroke="#ff2020" stroke-width="1.1"/><circle cx="220.1" cy="362.7" r="2.5" fill="url(#ball)"/><path d="M267.9 334.1L267.9 342.3M265.4 334.1L270.4 334.1M265.4 342.3L270.4 342.3" stroke="#ff2020" stroke-width="1.1"/><circle cx="267.9" cy="338" r="2.5" fill="url(#ball)"/><path d="M76.7 494.58L78.31 491.33L79.91 488.15L81.52 485.02L83.13 481.95L84.73 478.93L86.34 475.97L87.95 473.07L89.55 470.22L91.16 467.43L92.77 464.69L94.37 462L95.98 459.36L97.59 456.77L99.19 454.24L100.8 451.75L102.41 449.32L104.01 446.93L105.62 444.59L107.23 442.3L108.83 440.06L110.44 437.86L112.05 435.71L113.65 433.6L115.26 431.53L116.87 429.51L118.47 427.54L120.08 425.6L121.69 423.71L123.29 421.85L124.9 420.04L126.51 418.27L128.12 416.53L129.72 414.83L131.33 413.17L132.94 411.55L134.54 409.96L136.15 408.41L137.76 406.9L139.36 405.42L140.97 403.97L142.58 402.55L144.18 401.17L145.79 399.82L147.4 398.5L149 397.21L150.61 395.94L152.22 394.71L153.82 393.51L155.43 392.33L157.04 391.18L158.64 390.06L160.25 388.96L161.86 387.89L163.46 386.84L165.07 385.82L166.68 384.82L168.28 383.84L169.89 382.88L171.5 381.94L173.1 381.03L174.71 380.13L176.32 379.25L177.92 378.39L179.53 377.55L181.14 376.73L182.74 375.92L184.35 375.13L185.96 374.35L187.56 373.59L189.17 372.84L190.78 372.1L192.38 371.38L193.99 370.67L195.6 369.97L197.2 369.27L198.81 368.59L200.42 367.92L202.02 367.26L203.63 366.6L205.24 365.96L206.84 365.31L208.45 364.68L210.06 364.05L211.66 363.42L213.27 362.8L214.88 362.18L216.48 361.56L218.09 360.95L219.7 360.34L221.31 359.72L222.91 359.11L224.52 358.5L226.13 357.88L227.73 357.26L229.34 356.64L230.95 356.02L232.55 355.39L234.16 354.76L235.77 354.12L237.37 353.48L238.98 352.83L240.59 352.17L242.19 351.5L243.8 350.83L245.41 350.14L247.01 349.45L248.62 348.75L250.23 348.03L251.83 347.3L253.44 346.56L255.05 345.81L256.65 345.04L258.26 344.26L259.87 343.46L261.47 342.64L263.08 341.81L264.69 340.97L266.29 340.1L267.9 339.22" fill="none" stroke="#ff0000" stroke-width="1.8" stroke-linecap="round"/><circle cx="79.7" cy="336.8" r="2.2" fill="url(#ball)"/><path d="M69.5 349H89.9" stroke="#ff0000" stroke-width="1.8"/><text x="92.57" y="339.8" font-family="Liberation Sans, sans-serif" font-weight="bold" font-size="8.7" fill="#000" textLength="76.79" lengthAdjust="spacingAndGlyphs">Experimental data</text><text x="92.57" y="351.2" font-family="Liberation Sans, sans-serif" font-weight="bold" font-size="8.7" fill="#000" textLength="79.87" lengthAdjust="spacingAndGlyphs">Polynomially fitted</text><rect x="160" y="459.6" width="125.3" height="51.5" fill="#999"/><rect x="159.2" y="458.8" width="125.3" height="51.5" fill="#fff"/><rect x="159.2" y="466" width="125.3" height="6.6" fill="#ececec"/><path d="M159.2 466L284.5 466M159.2 472.6L284.5 472.6M159.2 480.8L284.5 480.8M159.2 488.5L284.5 488.5M159.2 495.7L284.5 495.7M159.2 502.7L284.5 502.7M186.9 466L186.9 510.3" stroke="#b0b0b0" stroke-width="0.6"/><path d="M159.2 472.6L284.5 472.6" stroke="#666" stroke-width="0.7"/><rect x="159.2" y="458.8" width="125.3" height="51.5" fill="none" stroke="#555" stroke-width="0.8"/><clipPath id="cp159"><rect x="159.2" y="458.8" width="125.3" height="7.2"/></clipPath><text clip-path="url(#cp159)" x="159.8" y="464.1" font-family="Liberation Sans, sans-serif" font-size="5.3" fill="#333" textLength="124.3" lengthAdjust="spacingAndGlyphs">6.5922) + (11.77232) * x + (-0.25923) * x ^ 2 + (0.00215</text><text x="235.7" y="470.9" font-family="Liberation Sans, sans-serif" font-size="5" fill="#444" text-anchor="middle">B</text><text x="160.4" y="478.9" font-family="Liberation Sans, sans-serif" font-weight="normal" font-size="5" fill="#111">Adj. R-Squ</text><text x="283" y="478.9" font-family="Liberation Sans, sans-serif" font-weight="bold" font-size="5" fill="#111" text-anchor="end">0.99171</text><text x="160.4" y="486.6" font-family="Liberation Sans, sans-serif" font-weight="normal" font-size="5" fill="#111">Intercept</text><text x="283" y="486.6" font-family="Liberation Sans, sans-serif" font-weight="bold" font-size="5" fill="#111" text-anchor="end">396.5922 ± 14.75805</text><text x="160.4" y="493.8" font-family="Liberation Sans, sans-serif" font-weight="normal" font-size="5" fill="#111">B1</text><text x="283" y="493.8" font-family="Liberation Sans, sans-serif" font-weight="bold" font-size="5" fill="#111" text-anchor="end">11.77232 ± 1.9291</text><text x="160.4" y="500.8" font-family="Liberation Sans, sans-serif" font-weight="normal" font-size="5" fill="#111">B2</text><text x="283" y="500.8" font-family="Liberation Sans, sans-serif" font-weight="bold" font-size="5" fill="#111" text-anchor="end">-0.25923 ± 0.0716</text><text x="160.4" y="508.4" font-family="Liberation Sans, sans-serif" font-weight="normal" font-size="5" fill="#111">B3</text><text x="283" y="508.4" font-family="Liberation Sans, sans-serif" font-weight="bold" font-size="5" fill="#111" text-anchor="end">0.00215 ± 7.90569E-4</text><path d="M392.1 524.5L392.1 520.5M392.1 312.6L392.1 314.6M444.55 524.5L444.55 520.5M444.55 312.6L444.55 314.6M497 524.5L497 520.5M497 312.6L497 314.6M549.45 524.5L549.45 520.5M549.45 312.6L549.45 314.6M601.9 524.5L601.9 520.5M601.9 312.6L601.9 314.6M418.33 524.5L418.33 522.5M418.33 312.6L418.33 316.6M470.78 524.5L470.78 522.5M470.78 312.6L470.78 316.6M523.23 524.5L523.23 522.5M523.23 312.6L523.23 316.6M575.68 524.5L575.68 522.5M575.68 312.6L575.68 316.6M365.7 524.4L369.7 524.4M365.7 489.1L369.7 489.1M365.7 453.8L369.7 453.8M365.7 418.5L369.7 418.5M365.7 383.2L369.7 383.2M365.7 347.9L369.7 347.9M365.7 312.6L369.7 312.6M365.7 506.75L367.7 506.75M365.7 471.45L367.7 471.45M365.7 436.15L367.7 436.15M365.7 400.85L367.7 400.85M365.7 365.55L367.7 365.55M365.7 330.25L367.7 330.25M628.1 333.8L626.1 333.8M628.1 354.7L624.1 354.7M628.1 375.6L626.1 375.6M628.1 396.5L624.1 396.5M628.1 417.4L626.1 417.4M628.1 438.3L624.1 438.3M628.1 459.2L626.1 459.2M628.1 480.1L624.1 480.1M628.1 501L626.1 501" stroke="#1a1a1a" stroke-width="1.1" fill="none"/><rect x="365.7" y="312.6" width="262.4" height="211.9" fill="none" stroke="#1a1a1a" stroke-width="1.3"/><text x="385.67" y="537.1" font-family="Liberation Sans, sans-serif" font-weight="bold" font-size="11" fill="#000" textLength="12.67" lengthAdjust="spacingAndGlyphs">10</text><text x="438.26" y="537.1" font-family="Liberation Sans, sans-serif" font-weight="bold" font-size="11" fill="#000" textLength="12.67" lengthAdjust="spacingAndGlyphs">20</text><text x="490.77" y="537.1" font-family="Liberation Sans, sans-serif" font-weight="bold" font-size="11" fill="#000" textLength="12.67" lengthAdjust="spacingAndGlyphs">30</text><text x="543.27" y="537.1" font-family="Liberation Sans, sans-serif" font-weight="bold" font-size="11" fill="#000" textLength="12.67" lengthAdjust="spacingAndGlyphs">40</text><text x="595.64" y="537.1" font-family="Liberation Sans, sans-serif" font-weight="bold" font-size="11" fill="#000" textLength="12.67" lengthAdjust="spacingAndGlyphs">50</text><text x="342.92" y="527.7" font-family="Liberation Sans, sans-serif" font-weight="bold" font-size="11.4" fill="#000" textLength="18.15" lengthAdjust="spacingAndGlyphs">540</text><text x="342.92" y="492.4" font-family="Liberation Sans, sans-serif" font-weight="bold" font-size="11.4" fill="#000" textLength="18.15" lengthAdjust="spacingAndGlyphs">560</text><text x="342.92" y="457.1" font-family="Liberation Sans, sans-serif" font-weight="bold" font-size="11.4" fill="#000" textLength="18.15" lengthAdjust="spacingAndGlyphs">580</text><text x="342.92" y="421.8" font-family="Liberation Sans, sans-serif" font-weight="bold" font-size="11.4" fill="#000" textLength="18.15" lengthAdjust="spacingAndGlyphs">600</text><text x="342.92" y="386.5" font-family="Liberation Sans, sans-serif" font-weight="bold" font-size="11.4" fill="#000" textLength="18.15" lengthAdjust="spacingAndGlyphs">620</text><text x="342.92" y="351.2" font-family="Liberation Sans, sans-serif" font-weight="bold" font-size="11.4" fill="#000" textLength="18.15" lengthAdjust="spacingAndGlyphs">640</text><text x="342.92" y="315.9" font-family="Liberation Sans, sans-serif" font-weight="bold" font-size="11.4" fill="#000" textLength="18.15" lengthAdjust="spacingAndGlyphs">660</text><text x="409.67" y="557.1" font-family="Liberation Sans, sans-serif" font-weight="bold" font-size="12.3" fill="#000" textLength="173.22" lengthAdjust="spacingAndGlyphs">Concentration of methanol (%)</text><text transform="translate(337.9 497.83) rotate(-90)" x="0" y="0" font-family="Liberation Sans, sans-serif" font-weight="bold" font-size="11.9" fill="#000" textLength="161.25" lengthAdjust="spacingAndGlyphs">Resonance wavelength (nm)</text><text x="489.73" y="581.4" font-family="Liberation Sans, sans-serif" font-weight="bold" font-size="14.5" fill="#000" textLength="18.5" lengthAdjust="spacingAndGlyphs">(d)</text><path d="M392.1 497.9L392.1 508.8M389.3 497.9L394.9 497.9M389.3 508.8L394.9 508.8" stroke="#ff2020" stroke-width="1.1"/><circle cx="392.1" cy="503.6" r="2.8" fill="url(#ball)"/><path d="M444.55 424.4L444.55 435.1M441.75 424.4L447.35 424.4M441.75 435.1L447.35 435.1" stroke="#ff2020" stroke-width="1.1"/><circle cx="444.55" cy="429.7" r="2.8" fill="url(#ball)"/><path d="M497 400.2L497 411M494.2 400.2L499.8 400.2M494.2 411L499.8 411" stroke="#ff2020" stroke-width="1.1"/><circle cx="497" cy="405.3" r="2.8" fill="url(#ball)"/><path d="M549.45 363.3L549.45 373.6M546.65 363.3L552.25 363.3M546.65 373.6L552.25 373.6" stroke="#ff2020" stroke-width="1.1"/><circle cx="549.45" cy="368.4" r="2.8" fill="url(#ball)"/><path d="M601.9 332.4L601.9 343.1M599.1 332.4L604.7 332.4M599.1 343.1L604.7 343.1" stroke="#ff2020" stroke-width="1.1"/><circle cx="601.9" cy="337.7" r="2.8" fill="url(#ball)"/><path d="M392.1 502.21L393.86 499.19L395.63 496.22L397.39 493.32L399.15 490.47L400.92 487.68L402.68 484.94L404.44 482.26L406.2 479.63L407.97 477.06L409.73 474.54L411.49 472.08L413.26 469.66L415.02 467.29L416.78 464.98L418.55 462.71L420.31 460.49L422.07 458.32L423.83 456.19L425.6 454.11L427.36 452.08L429.12 450.08L430.89 448.14L432.65 446.23L434.41 444.36L436.18 442.54L437.94 440.75L439.7 439.01L441.46 437.3L443.23 435.63L444.99 434L446.75 432.4L448.52 430.83L450.28 429.31L452.04 427.81L453.81 426.35L455.57 424.91L457.33 423.51L459.09 422.14L460.86 420.8L462.62 419.49L464.38 418.2L466.15 416.94L467.91 415.71L469.67 414.5L471.44 413.31L473.2 412.15L474.96 411.01L476.73 409.9L478.49 408.8L480.25 407.73L482.01 406.67L483.78 405.63L485.54 404.62L487.3 403.61L489.07 402.63L490.83 401.66L492.59 400.7L494.36 399.76L496.12 398.83L497.88 397.91L499.64 397L501.41 396.1L503.17 395.22L504.93 394.34L506.7 393.47L508.46 392.6L510.22 391.75L511.99 390.9L513.75 390.05L515.51 389.21L517.27 388.37L519.04 387.53L520.8 386.69L522.56 385.86L524.33 385.02L526.09 384.18L527.85 383.35L529.62 382.5L531.38 381.66L533.14 380.81L534.91 379.96L536.67 379.09L538.43 378.23L540.19 377.35L541.96 376.47L543.72 375.58L545.48 374.68L547.25 373.76L549.01 372.84L550.77 371.9L552.54 370.95L554.3 369.98L556.06 369L557.82 368.01L559.59 367L561.35 365.97L563.11 364.92L564.88 363.85L566.64 362.77L568.4 361.66L570.17 360.53L571.93 359.38L573.69 358.21L575.45 357.01L577.22 355.79L578.98 354.54L580.74 353.27L582.51 351.96L584.27 350.63L586.03 349.28L587.8 347.89L589.56 346.47L591.32 345.02L593.08 343.54L594.85 342.02L596.61 340.48L598.37 338.89L600.14 337.28L601.9 335.62" fill="none" stroke="#ff0000" stroke-width="1.8" stroke-linecap="round"/><circle cx="391.1" cy="342.6" r="2.5" fill="url(#ball)"/><path d="M379.5 355.3H403.1" stroke="#ff0000" stroke-width="1.8"/><text x="405.32" y="346.2" font-family="Liberation Sans, sans-serif" font-weight="bold" font-size="9.9" fill="#000" textLength="84.13" lengthAdjust="spacingAndGlyphs">Experimental data</text><text x="405.31" y="357.9" font-family="Liberation Sans, sans-serif" font-weight="bold" font-size="9.9" fill="#000" textLength="87.99" lengthAdjust="spacingAndGlyphs">Polynomially fitted</text><rect x="484.1" y="463.7" width="130.1" height="49.8" fill="#999"/><rect x="483.3" y="462.9" width="130.1" height="49.8" fill="#fff"/><rect x="483.3" y="470.3" width="130.1" height="6.8" fill="#ececec"/><path d="M483.3 470.3L613.4 470.3M483.3 477.1L613.4 477.1M483.3 484.2L613.4 484.2M483.3 491.4L613.4 491.4M483.3 498.5L613.4 498.5M483.3 505.7L613.4 505.7M513.6 470.3L513.6 512.7" stroke="#b0b0b0" stroke-width="0.6"/><path d="M483.3 477.1L613.4 477.1" stroke="#666" stroke-width="0.7"/><rect x="483.3" y="462.9" width="130.1" height="49.8" fill="none" stroke="#555" stroke-width="0.8"/><clipPath id="cp483"><rect x="483.3" y="462.9" width="130.1" height="7.4"/></clipPath><text clip-path="url(#cp483)" x="483.9" y="468.4" font-family="Liberation Sans, sans-serif" font-size="5.4" fill="#333" textLength="129.1" lengthAdjust="spacingAndGlyphs">483.9702) + (8.77523) * x + (-0.21181) * x ^ 2 + (0.00203) *</text><text x="563.5" y="475.4" font-family="Liberation Sans, sans-serif" font-size="5.1" fill="#444" text-anchor="middle">B</text><text x="484.5" y="482.3" font-family="Liberation Sans, sans-serif" font-weight="normal" font-size="5.1" fill="#111">Adj. R-Squa</text><text x="611.9" y="482.3" font-family="Liberation Sans, sans-serif" font-weight="normal" font-size="5.1" fill="#111" text-anchor="end">0.97773</text><text x="484.5" y="489.5" font-family="Liberation Sans, sans-serif" font-weight="normal" font-size="5.1" fill="#111">Intercept</text><text x="611.9" y="489.5" font-family="Liberation Sans, sans-serif" font-weight="normal" font-size="5.1" fill="#111" text-anchor="end">483.9702 ± 14.75805</text><text x="484.5" y="496.6" font-family="Liberation Sans, sans-serif" font-weight="normal" font-size="5.1" fill="#111">B1</text><text x="611.9" y="496.6" font-family="Liberation Sans, sans-serif" font-weight="normal" font-size="5.1" fill="#111" text-anchor="end">8.77523 ± 1.9291</text><text x="484.5" y="503.8" font-family="Liberation Sans, sans-serif" font-weight="normal" font-size="5.1" fill="#111">B2</text><text x="611.9" y="503.8" font-family="Liberation Sans, sans-serif" font-weight="normal" font-size="5.1" fill="#111" text-anchor="end">-0.21181 ± 0.0716</text><text x="484.5" y="510.8" font-family="Liberation Sans, sans-serif" font-weight="normal" font-size="5.1" fill="#111">B3</text><text x="611.9" y="510.8" font-family="Liberation Sans, sans-serif" font-weight="normal" font-size="5.1" fill="#111" text-anchor="end">0.00203 ± 7.90569E-4</text><defs><rect id="m0" x="-1.75" y="-1.75" width="3.5" height="3.5" fill="none" stroke="#ff2020" stroke-width="0.85"/><circle id="m1" cx="0" cy="0" r="1.75" fill="none" stroke="#22ee22" stroke-width="1.0"/><path id="m2" d="M0 -2.1L2.1 1.58L-2.1 1.58Z" fill="none" stroke="#2828d0" stroke-width="1.0"/><path id="m3" d="M0 2L2 -1.5L-2 -1.5Z" fill="none" stroke="#8b1c1c" stroke-width="1.0"/><path id="m4" d="M0 -2.5L0.66 -0.91L2.38 -0.77L1.07 0.35L1.47 2.02L0 1.12L-1.47 2.02L-1.07 0.35L-2.38 -0.77L-0.66 -0.91Z" fill="none" stroke="#d9a332" stroke-width="0.8"/><rect id="m5" x="-1.4" y="-1.4" width="2.8" height="2.8" fill="none" stroke="#ff2020" stroke-width="0.75"/><path id="m6" d="M0 -1.75L0.46 -0.64L1.66 -0.54L0.75 0.24L1.03 1.42L0 0.79L-1.03 1.42L-0.75 0.24L-1.66 -0.54L-0.46 -0.64Z" fill="#14148c" stroke="#14148c" stroke-width="0.5"/><path id="m7" d="M0 -1.65L1.65 1.24L-1.65 1.24Z" fill="none" stroke="#ff1aa0" stroke-width="0.75"/><path id="m8" d="M0 1.75L1.75 -1.31L-1.75 -1.31Z" fill="none" stroke="#22ff22" stroke-width="0.75"/><path id="m9" d="M0 -1.6L1.6 0L0 1.6L-1.6 0Z" fill="none" stroke="#3a3a3a" stroke-width="0.7"/></defs></svg></body></html>
